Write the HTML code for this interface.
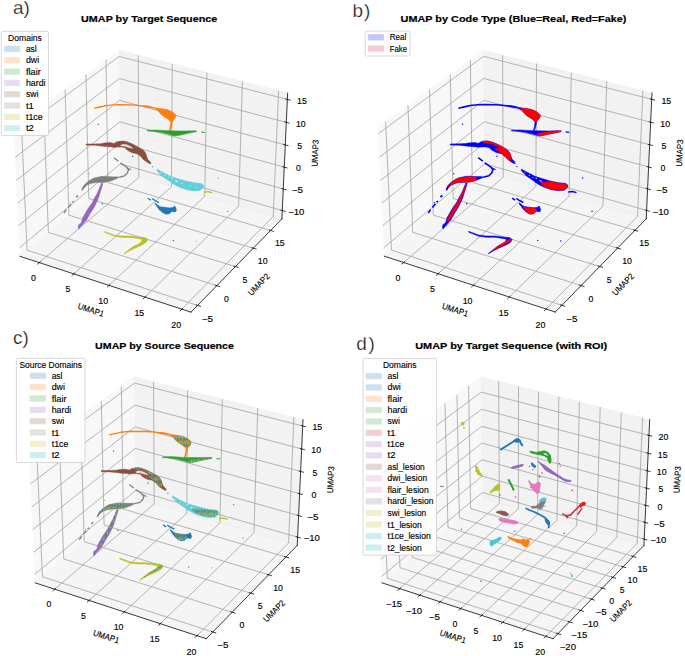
<!DOCTYPE html><html><head><meta charset="utf-8"><style>html,body{margin:0;padding:0;background:#fff;font-family:"Liberation Sans",sans-serif}svg{display:block}</style></head><body><svg width="685" height="656" viewBox="0 0 893.478261 855.652174" version="1.1">
 <defs>
  <style type="text/css">*{stroke-linejoin: round; stroke-linecap: butt}</style>
 </defs>
 <g id="figure_1">
  <g id="patch_1">
   <path d="M 0 855.652174 
L 893.478261 855.652174 
L 893.478261 0 
L 0 0 
z
" style="fill: #ffffff"/>
  </g>
  <g id="patch_2">
   <path d="M -4.056522 432.234783 
L 393.247826 432.234783 
L 393.247826 34.930435 
L -4.056522 34.930435 
z
" style="fill: #ffffff"/>
  </g>
  <g id="pane3d_1">
   <g id="patch_3">
    <path d="M 25.942696 334.272263 
L 157.145568 224.295415 
L 155.321722 65.68914 
L 17.840117 166.016953 
" style="fill: #f2f2f2; opacity: 0.5; stroke: #f2f2f2; stroke-linejoin: miter"/>
   </g>
  </g>
  <g id="pane3d_2">
   <g id="patch_4">
    <path d="M 157.145568 224.295415 
L 367.679362 285.489277 
L 375.192571 121.419991 
L 155.321722 65.68914 
" style="fill: #e6e6e6; opacity: 0.5; stroke: #e6e6e6; stroke-linejoin: miter"/>
   </g>
  </g>
  <g id="pane3d_3">
   <g id="patch_5">
    <path d="M 25.942696 334.272263 
L 249.118802 407.161579 
L 367.679362 285.489277 
L 157.145568 224.295415 
" style="fill: #ececec; opacity: 0.5; stroke: #ececec; stroke-linejoin: miter"/>
   </g>
  </g>
  <g id="grid3d_1">
   <g id="Line3DCollection_1">
    <path d="M 51.264136 342.542245 
L 181.126274 231.265659 
L 180.319149 72.025259 
" style="fill: none; stroke: #a0a0a0; stroke-width: 1.0"/>
    <path d="M 96.209206 357.221305 
L 223.63235 243.620498 
L 224.656903 83.263587 
" style="fill: none; stroke: #a0a0a0; stroke-width: 1.0"/>
    <path d="M 142.139301 372.222074 
L 266.991916 256.223412 
L 269.923868 94.737443 
" style="fill: none; stroke: #a0a0a0; stroke-width: 1.0"/>
    <path d="M 189.087163 387.555245 
L 311.230937 269.081949 
L 316.149563 106.454309 
" style="fill: none; stroke: #a0a0a0; stroke-width: 1.0"/>
    <path d="M 237.086999 403.231992 
L 356.376445 282.203965 
L 363.364772 118.421989 
" style="fill: none; stroke: #a0a0a0; stroke-width: 1.0"/>
   </g>
  </g>
  <g id="grid3d_2">
   <g id="Line3DCollection_2">
    <path d="M 27.762074 158.776361 
L 35.378215 326.363224 
L 257.680145 398.375534 
" style="fill: none; stroke: #a0a0a0; stroke-width: 1.0"/>
    <path d="M 56.888755 137.521036 
L 63.106769 303.120601 
L 282.80823 372.587937 
" style="fill: none; stroke: #a0a0a0; stroke-width: 1.0"/>
    <path d="M 84.976448 117.023917 
L 89.88846 280.671656 
L 307.033731 347.726613 
" style="fill: none; stroke: #a0a0a0; stroke-width: 1.0"/>
    <path d="M 112.079771 97.245146 
L 115.770973 258.97642 
L 330.40442 323.742537 
" style="fill: none; stroke: #a0a0a0; stroke-width: 1.0"/>
    <path d="M 138.249582 78.14761 
L 140.798845 237.997562 
L 352.964758 300.590081 
" style="fill: none; stroke: #a0a0a0; stroke-width: 1.0"/>
   </g>
  </g>
  <g id="grid3d_3">
   <g id="Line3DCollection_3">
    <path d="M 368.176564 274.631653 
L 157.024633 213.778606 
L 25.407335 323.155139 
" style="fill: none; stroke: #a0a0a0; stroke-width: 1.0"/>
    <path d="M 369.463637 246.525269 
L 156.711734 186.568124 
L 24.020928 294.365487 
" style="fill: none; stroke: #a0a0a0; stroke-width: 1.0"/>
    <path d="M 370.770558 217.985457 
L 156.394241 158.958172 
L 22.612321 265.114855 
" style="fill: none; stroke: #a0a0a0; stroke-width: 1.0"/>
    <path d="M 372.097789 189.002113 
L 156.072053 130.939888 
L 21.180977 235.392082 
" style="fill: none; stroke: #a0a0a0; stroke-width: 1.0"/>
    <path d="M 373.445809 159.564817 
L 155.745065 102.504145 
L 19.726342 205.185642 
" style="fill: none; stroke: #a0a0a0; stroke-width: 1.0"/>
    <path d="M 374.815108 129.662819 
L 155.413168 73.641545 
L 18.247842 174.483634 
" style="fill: none; stroke: #a0a0a0; stroke-width: 1.0"/>
   </g>
  </g>
  <g id="axis3d_1">
   <g id="line2d_1">
    <path d="M 25.942696 334.272263 
L 249.118802 407.161579 
" style="fill: none; stroke: #000000; stroke-width: 1.0; stroke-linecap: square"/>
   </g>
   <g id="xtick_1">
    <g id="line2d_2">
     <path d="M 52.39523 341.57303 
L 48.99708 344.484846 
" style="fill: none; stroke: #000000; stroke-width: 1.0; stroke-linecap: square"/>
    </g>
    <g id="text_1">
     <text style="font-size: 11.200px; font-family: 'Liberation Sans', sans-serif; text-anchor: middle" x="43.752233" y="365.88666" transform="rotate(-0 43.752233 365.88666)" dx="0.000" dy="0.432" textLength="6.363" lengthAdjust="spacingAndGlyphs" stroke="#000" stroke-width="0.18">0</text>
    </g>
   </g>
   <g id="xtick_2">
    <g id="line2d_3">
     <path d="M 97.320036 356.230972 
L 93.982712 359.206278 
" style="fill: none; stroke: #000000; stroke-width: 1.0; stroke-linecap: square"/>
    </g>
    <g id="text_2">
     <text style="font-size: 11.200px; font-family: 'Liberation Sans', sans-serif; text-anchor: middle" x="88.728978" y="380.773831" transform="rotate(-0 88.728978 380.773831)" dx="0.000" dy="0.432" textLength="6.363" lengthAdjust="spacingAndGlyphs" stroke="#000" stroke-width="0.18">5</text>
    </g>
   </g>
   <g id="xtick_3">
    <g id="line2d_4">
     <path d="M 143.228704 371.209926 
L 139.955704 374.25082 
" style="fill: none; stroke: #000000; stroke-width: 1.0; stroke-linecap: square"/>
    </g>
    <g id="text_3">
     <text style="font-size: 11.200px; font-family: 'Liberation Sans', sans-serif; text-anchor: middle" x="134.693956" y="395.988104" transform="rotate(-0 134.693956 395.988104)" dx="0.026" dy="0.432" textLength="12.777" lengthAdjust="spacingAndGlyphs" stroke="#000" stroke-width="0.18">10</text>
    </g>
   </g>
   <g id="xtick_4">
    <g id="line2d_5">
     <path d="M 190.153911 386.520554 
L 186.948923 389.62923 
" style="fill: none; stroke: #000000; stroke-width: 1.0; stroke-linecap: square"/>
    </g>
    <g id="text_4">
     <text style="font-size: 11.200px; font-family: 'Liberation Sans', sans-serif; text-anchor: middle" x="181.680097" y="411.54038" transform="rotate(-0 181.680097 411.54038)" dx="0.026" dy="0.432" textLength="12.777" lengthAdjust="spacingAndGlyphs" stroke="#000" stroke-width="0.18">15</text>
    </g>
   </g>
   <g id="xtick_5">
    <g id="line2d_6">
     <path d="M 238.129798 402.173994 
L 234.996712 405.352744 
" style="fill: none; stroke: #000000; stroke-width: 1.0; stroke-linecap: square"/>
    </g>
    <g id="text_5">
     <text style="font-size: 11.200px; font-family: 'Liberation Sans', sans-serif; text-anchor: middle" x="229.721815" y="427.442047" transform="rotate(-0 229.721815 427.442047)" dx="0.026" dy="0.432" textLength="12.777" lengthAdjust="spacingAndGlyphs" stroke="#000" stroke-width="0.18">20</text>
    </g>
   </g>
   <g id="text_6">
    <text style="font-size: 11.200px; font-family: 'Liberation Sans', sans-serif; text-anchor: middle" x="117.485371" y="407.554723" transform="rotate(-341.912962 117.485371 407.554723)" dx="0.012" dy="0.432" textLength="35.205" lengthAdjust="spacingAndGlyphs" stroke="#000" stroke-width="0.18">UMAP1</text>
   </g>
  </g>
  <g id="axis3d_2">
   <g id="line2d_7">
    <path d="M 367.679362 285.489277 
L 249.118802 407.161579 
" style="fill: none; stroke: #000000; stroke-width: 1.0; stroke-linecap: square"/>
   </g>
   <g id="xtick_6">
    <g id="line2d_8">
     <path d="M 255.806825 397.768692 
L 261.431629 399.590786 
" style="fill: none; stroke: #000000; stroke-width: 1.0; stroke-linecap: square"/>
    </g>
    <g id="text_7">
     <text style="font-size: 11.200px; font-family: 'Liberation Sans', sans-serif; text-anchor: middle" x="270.555022" y="419.390967" transform="rotate(-0 270.555022 419.390967)" dx="0.005" dy="0.432" textLength="14.752" lengthAdjust="spacingAndGlyphs" stroke="#000" stroke-width="0.18">−5</text>
    </g>
   </g>
   <g id="xtick_7">
    <g id="line2d_9">
     <path d="M 280.958538 372.003084 
L 286.512309 373.759128 
" style="fill: none; stroke: #000000; stroke-width: 1.0; stroke-linecap: square"/>
    </g>
    <g id="text_8">
     <text style="font-size: 11.200px; font-family: 'Liberation Sans', sans-serif; text-anchor: middle" x="295.457446" y="393.347754" transform="rotate(-0 295.457446 393.347754)" dx="0.000" dy="0.432" textLength="6.363" lengthAdjust="spacingAndGlyphs" stroke="#000" stroke-width="0.18">0</text>
    </g>
   </g>
   <g id="xtick_8">
    <g id="line2d_10">
     <path d="M 305.207194 347.162575 
L 310.691358 348.856097 
" style="fill: none; stroke: #000000; stroke-width: 1.0; stroke-linecap: square"/>
    </g>
    <g id="text_9">
     <text style="font-size: 11.200px; font-family: 'Liberation Sans', sans-serif; text-anchor: middle" x="319.465046" y="368.240357" transform="rotate(-0 319.465046 368.240357)" dx="0.000" dy="0.432" textLength="6.363" lengthAdjust="spacingAndGlyphs" stroke="#000" stroke-width="0.18">5</text>
    </g>
   </g>
   <g id="xtick_9">
    <g id="line2d_11">
     <path d="M 328.60057 323.198221 
L 334.016539 324.832502 
" style="fill: none; stroke: #000000; stroke-width: 1.0; stroke-linecap: square"/>
    </g>
    <g id="text_10">
     <text style="font-size: 11.200px; font-family: 'Liberation Sans', sans-serif; text-anchor: middle" x="342.625201" y="344.019226" transform="rotate(-0 342.625201 344.019226)" dx="0.026" dy="0.432" textLength="12.777" lengthAdjust="spacingAndGlyphs" stroke="#000" stroke-width="0.18">10</text>
    </g>
   </g>
   <g id="xtick_10">
    <g id="line2d_12">
     <path d="M 351.183132 300.064471 
L 356.532296 301.642565 
" style="fill: none; stroke: #000000; stroke-width: 1.0; stroke-linecap: square"/>
    </g>
    <g id="text_11">
     <text style="font-size: 11.200px; font-family: 'Liberation Sans', sans-serif; text-anchor: middle" x="364.982004" y="320.638249" transform="rotate(-0 364.982004 320.638249)" dx="0.026" dy="0.432" textLength="12.777" lengthAdjust="spacingAndGlyphs" stroke="#000" stroke-width="0.18">15</text>
    </g>
   </g>
   <g id="text_12">
    <text style="font-size: 11.200px; font-family: 'Liberation Sans', sans-serif; text-anchor: middle" x="339.989067" y="373.526556" transform="rotate(-45.742112 339.989067 373.526556)" dx="0.012" dy="0.432" textLength="35.205" lengthAdjust="spacingAndGlyphs" stroke="#000" stroke-width="0.18">UMAP2</text>
   </g>
  </g>
  <g id="axis3d_3">
   <g id="line2d_13">
    <path d="M 367.679362 285.489277 
L 375.192571 121.419991 
" style="fill: none; stroke: #000000; stroke-width: 1.0; stroke-linecap: square"/>
   </g>
   <g id="xtick_11">
    <g id="line2d_14">
     <path d="M 366.404172 274.120857 
L 371.725576 275.654462 
" style="fill: none; stroke: #000000; stroke-width: 1.0; stroke-linecap: square"/>
    </g>
    <g id="text_13">
     <text style="font-size: 11.200px; font-family: 'Liberation Sans', sans-serif; text-anchor: middle" x="386.496329" y="279.636687" transform="rotate(-0 386.496329 279.636687)" dx="0.006" dy="0.432" textLength="21.117" lengthAdjust="spacingAndGlyphs" stroke="#000" stroke-width="0.18">−10</text>
    </g>
   </g>
   <g id="xtick_12">
    <g id="line2d_15">
     <path d="M 367.677174 246.021813 
L 373.040857 247.533391 
" style="fill: none; stroke: #000000; stroke-width: 1.0; stroke-linecap: square"/>
    </g>
    <g id="text_14">
     <text style="font-size: 11.200px; font-family: 'Liberation Sans', sans-serif; text-anchor: middle" x="387.920676" y="251.567598" transform="rotate(-0 387.920676 251.567598)" dx="0.005" dy="0.432" textLength="14.752" lengthAdjust="spacingAndGlyphs" stroke="#000" stroke-width="0.18">−5</text>
    </g>
   </g>
   <g id="xtick_13">
    <g id="line2d_16">
     <path d="M 368.969799 217.489628 
L 374.376438 218.978315 
" style="fill: none; stroke: #000000; stroke-width: 1.0; stroke-linecap: square"/>
    </g>
    <g id="text_15">
     <text style="font-size: 11.200px; font-family: 'Liberation Sans', sans-serif; text-anchor: middle" x="389.366943" y="223.066543" transform="rotate(-0 389.366943 223.066543)" dx="0.000" dy="0.432" textLength="6.363" lengthAdjust="spacingAndGlyphs" stroke="#000" stroke-width="0.18">0</text>
    </g>
   </g>
   <g id="xtick_14">
    <g id="line2d_17">
     <path d="M 370.282504 188.51421 
L 375.732791 189.979109 
" style="fill: none; stroke: #000000; stroke-width: 1.0; stroke-linecap: square"/>
    </g>
    <g id="text_16">
     <text style="font-size: 11.200px; font-family: 'Liberation Sans', sans-serif; text-anchor: middle" x="390.83564" y="194.123472" transform="rotate(-0 390.83564 194.123472)" dx="0.000" dy="0.432" textLength="6.363" lengthAdjust="spacingAndGlyphs" stroke="#000" stroke-width="0.18">5</text>
    </g>
   </g>
   <g id="xtick_15">
    <g id="line2d_18">
     <path d="M 371.615761 159.08515 
L 377.110406 160.525329 
" style="fill: none; stroke: #000000; stroke-width: 1.0; stroke-linecap: square"/>
    </g>
    <g id="text_17">
     <text style="font-size: 11.200px; font-family: 'Liberation Sans', sans-serif; text-anchor: middle" x="392.327293" y="164.728022" transform="rotate(-0 392.327293 164.728022)" dx="0.026" dy="0.432" textLength="12.777" lengthAdjust="spacingAndGlyphs" stroke="#000" stroke-width="0.18">10</text>
    </g>
   </g>
   <g id="xtick_16">
    <g id="line2d_19">
     <path d="M 372.970057 129.191711 
L 378.509786 130.606204 
" style="fill: none; stroke: #000000; stroke-width: 1.0; stroke-linecap: square"/>
    </g>
    <g id="text_18">
     <text style="font-size: 11.200px; font-family: 'Liberation Sans', sans-serif; text-anchor: middle" x="393.842443" y="134.869504" transform="rotate(-0 393.842443 134.869504)" dx="0.026" dy="0.432" textLength="12.777" lengthAdjust="spacingAndGlyphs" stroke="#000" stroke-width="0.18">15</text>
    </g>
   </g>
   <g id="text_19">
    <text style="font-size: 11.200px; font-family: 'Liberation Sans', sans-serif; text-anchor: middle" x="414.574628" y="199.95687" transform="rotate(-87.378092 414.574628 199.95687)" dx="0.012" dy="0.432" textLength="35.205" lengthAdjust="spacingAndGlyphs" stroke="#000" stroke-width="0.18">UMAP3</text>
   </g>
  </g>
  <g id="axes_1">
   <g id="text_20">
    <text style="font-weight: 700; font-size: 12.000px; font-family: 'Liberation Sans', sans-serif; text-anchor: middle" x="194.595652" y="28.930435" transform="rotate(-0 194.595652 28.930435)" dx="-0.024" dy="0.000" textLength="177.635" lengthAdjust="spacingAndGlyphs" stroke="#000" stroke-width="0.23">UMAP by Target Sequence</text>
   </g>
  </g>
  <g id="patch_6">
   <path d="M 471.169565 432.091304 
L 868.473913 432.091304 
L 868.473913 34.786957 
L 471.169565 34.786957 
z
" style="fill: #ffffff"/>
  </g>
  <g id="pane3d_4">
   <g id="patch_7">
    <path d="M 501.168783 334.128785 
L 632.371654 224.151937 
L 630.547809 65.545662 
L 493.066204 165.873475 
" style="fill: #f2f2f2; opacity: 0.5; stroke: #f2f2f2; stroke-linejoin: miter"/>
   </g>
  </g>
  <g id="pane3d_5">
   <g id="patch_8">
    <path d="M 632.371654 224.151937 
L 842.905449 285.345799 
L 850.418658 121.276513 
L 630.547809 65.545662 
" style="fill: #e6e6e6; opacity: 0.5; stroke: #e6e6e6; stroke-linejoin: miter"/>
   </g>
  </g>
  <g id="pane3d_6">
   <g id="patch_9">
    <path d="M 501.168783 334.128785 
L 724.344889 407.0181 
L 842.905449 285.345799 
L 632.371654 224.151937 
" style="fill: #ececec; opacity: 0.5; stroke: #ececec; stroke-linejoin: miter"/>
   </g>
  </g>
  <g id="grid3d_4">
   <g id="Line3DCollection_4">
    <path d="M 526.490223 342.398767 
L 656.352361 231.122181 
L 655.545236 71.881781 
" style="fill: none; stroke: #a0a0a0; stroke-width: 1.0"/>
    <path d="M 571.435293 357.077827 
L 698.858437 243.47702 
L 699.88299 83.120109 
" style="fill: none; stroke: #a0a0a0; stroke-width: 1.0"/>
    <path d="M 617.365388 372.078596 
L 742.218003 256.079933 
L 745.149955 94.593965 
" style="fill: none; stroke: #a0a0a0; stroke-width: 1.0"/>
    <path d="M 664.31325 387.411767 
L 786.457024 268.93847 
L 791.37565 106.310831 
" style="fill: none; stroke: #a0a0a0; stroke-width: 1.0"/>
    <path d="M 712.313086 403.088514 
L 831.602532 282.060487 
L 838.590859 118.27851 
" style="fill: none; stroke: #a0a0a0; stroke-width: 1.0"/>
   </g>
  </g>
  <g id="grid3d_5">
   <g id="Line3DCollection_5">
    <path d="M 502.98816 158.632883 
L 510.604302 326.219746 
L 732.906232 398.232055 
" style="fill: none; stroke: #a0a0a0; stroke-width: 1.0"/>
    <path d="M 532.114842 137.377558 
L 538.332856 302.977122 
L 758.034317 372.444459 
" style="fill: none; stroke: #a0a0a0; stroke-width: 1.0"/>
    <path d="M 560.202535 116.880439 
L 565.114547 280.528178 
L 782.259818 347.583135 
" style="fill: none; stroke: #a0a0a0; stroke-width: 1.0"/>
    <path d="M 587.305858 97.101668 
L 590.99706 258.832942 
L 805.630507 323.599059 
" style="fill: none; stroke: #a0a0a0; stroke-width: 1.0"/>
    <path d="M 613.475669 78.004132 
L 616.024932 237.854083 
L 828.190845 300.446603 
" style="fill: none; stroke: #a0a0a0; stroke-width: 1.0"/>
   </g>
  </g>
  <g id="grid3d_6">
   <g id="Line3DCollection_6">
    <path d="M 843.402651 274.488174 
L 632.25072 213.635128 
L 500.633422 323.01166 
" style="fill: none; stroke: #a0a0a0; stroke-width: 1.0"/>
    <path d="M 844.689724 246.38179 
L 631.937821 186.424646 
L 499.247014 294.222009 
" style="fill: none; stroke: #a0a0a0; stroke-width: 1.0"/>
    <path d="M 845.996645 217.841978 
L 631.620328 158.814693 
L 497.838408 264.971377 
" style="fill: none; stroke: #a0a0a0; stroke-width: 1.0"/>
    <path d="M 847.323876 188.858634 
L 631.29814 130.796409 
L 496.407064 235.248603 
" style="fill: none; stroke: #a0a0a0; stroke-width: 1.0"/>
    <path d="M 848.671896 159.421338 
L 630.971152 102.360667 
L 494.952429 205.042164 
" style="fill: none; stroke: #a0a0a0; stroke-width: 1.0"/>
    <path d="M 850.041195 129.519341 
L 630.639255 73.498067 
L 493.473929 174.340156 
" style="fill: none; stroke: #a0a0a0; stroke-width: 1.0"/>
   </g>
  </g>
  <g id="axis3d_4">
   <g id="line2d_20">
    <path d="M 501.168783 334.128785 
L 724.344889 407.0181 
" style="fill: none; stroke: #000000; stroke-width: 1.0; stroke-linecap: square"/>
   </g>
   <g id="xtick_17">
    <g id="line2d_21">
     <path d="M 527.621317 341.429552 
L 524.223166 344.341368 
" style="fill: none; stroke: #000000; stroke-width: 1.0; stroke-linecap: square"/>
    </g>
    <g id="text_21">
     <text style="font-size: 11.200px; font-family: 'Liberation Sans', sans-serif; text-anchor: middle" x="518.97832" y="365.743182" transform="rotate(-0 518.97832 365.743182)" dx="0.000" dy="0.432" textLength="6.363" lengthAdjust="spacingAndGlyphs" stroke="#000" stroke-width="0.18">0</text>
    </g>
   </g>
   <g id="xtick_18">
    <g id="line2d_22">
     <path d="M 572.546123 356.087494 
L 569.208799 359.062799 
" style="fill: none; stroke: #000000; stroke-width: 1.0; stroke-linecap: square"/>
    </g>
    <g id="text_22">
     <text style="font-size: 11.200px; font-family: 'Liberation Sans', sans-serif; text-anchor: middle" x="563.955065" y="380.630353" transform="rotate(-0 563.955065 380.630353)" dx="0.000" dy="0.432" textLength="6.363" lengthAdjust="spacingAndGlyphs" stroke="#000" stroke-width="0.18">5</text>
    </g>
   </g>
   <g id="xtick_19">
    <g id="line2d_23">
     <path d="M 618.454791 371.066448 
L 615.181791 374.107342 
" style="fill: none; stroke: #000000; stroke-width: 1.0; stroke-linecap: square"/>
    </g>
    <g id="text_23">
     <text style="font-size: 11.200px; font-family: 'Liberation Sans', sans-serif; text-anchor: middle" x="609.920043" y="395.844626" transform="rotate(-0 609.920043 395.844626)" dx="0.026" dy="0.432" textLength="12.777" lengthAdjust="spacingAndGlyphs" stroke="#000" stroke-width="0.18">10</text>
    </g>
   </g>
   <g id="xtick_20">
    <g id="line2d_24">
     <path d="M 665.379998 386.377075 
L 662.17501 389.485751 
" style="fill: none; stroke: #000000; stroke-width: 1.0; stroke-linecap: square"/>
    </g>
    <g id="text_24">
     <text style="font-size: 11.200px; font-family: 'Liberation Sans', sans-serif; text-anchor: middle" x="656.906184" y="411.396901" transform="rotate(-0 656.906184 411.396901)" dx="0.026" dy="0.432" textLength="12.777" lengthAdjust="spacingAndGlyphs" stroke="#000" stroke-width="0.18">15</text>
    </g>
   </g>
   <g id="xtick_21">
    <g id="line2d_25">
     <path d="M 713.355885 402.030516 
L 710.222798 405.209266 
" style="fill: none; stroke: #000000; stroke-width: 1.0; stroke-linecap: square"/>
    </g>
    <g id="text_25">
     <text style="font-size: 11.200px; font-family: 'Liberation Sans', sans-serif; text-anchor: middle" x="704.947902" y="427.298569" transform="rotate(-0 704.947902 427.298569)" dx="0.026" dy="0.432" textLength="12.777" lengthAdjust="spacingAndGlyphs" stroke="#000" stroke-width="0.18">20</text>
    </g>
   </g>
   <g id="text_26">
    <text style="font-size: 11.200px; font-family: 'Liberation Sans', sans-serif; text-anchor: middle" x="592.711458" y="407.411245" transform="rotate(-341.912962 592.711458 407.411245)" dx="0.012" dy="0.432" textLength="35.205" lengthAdjust="spacingAndGlyphs" stroke="#000" stroke-width="0.18">UMAP1</text>
   </g>
  </g>
  <g id="axis3d_5">
   <g id="line2d_26">
    <path d="M 842.905449 285.345799 
L 724.344889 407.0181 
" style="fill: none; stroke: #000000; stroke-width: 1.0; stroke-linecap: square"/>
   </g>
   <g id="xtick_22">
    <g id="line2d_27">
     <path d="M 731.032912 397.625214 
L 736.657716 399.447308 
" style="fill: none; stroke: #000000; stroke-width: 1.0; stroke-linecap: square"/>
    </g>
    <g id="text_27">
     <text style="font-size: 11.200px; font-family: 'Liberation Sans', sans-serif; text-anchor: middle" x="745.781109" y="419.247489" transform="rotate(-0 745.781109 419.247489)" dx="0.005" dy="0.432" textLength="14.752" lengthAdjust="spacingAndGlyphs" stroke="#000" stroke-width="0.18">−5</text>
    </g>
   </g>
   <g id="xtick_23">
    <g id="line2d_28">
     <path d="M 756.184625 371.859605 
L 761.738396 373.61565 
" style="fill: none; stroke: #000000; stroke-width: 1.0; stroke-linecap: square"/>
    </g>
    <g id="text_28">
     <text style="font-size: 11.200px; font-family: 'Liberation Sans', sans-serif; text-anchor: middle" x="770.683533" y="393.204276" transform="rotate(-0 770.683533 393.204276)" dx="0.000" dy="0.432" textLength="6.363" lengthAdjust="spacingAndGlyphs" stroke="#000" stroke-width="0.18">0</text>
    </g>
   </g>
   <g id="xtick_24">
    <g id="line2d_29">
     <path d="M 780.433281 347.019096 
L 785.917445 348.712619 
" style="fill: none; stroke: #000000; stroke-width: 1.0; stroke-linecap: square"/>
    </g>
    <g id="text_29">
     <text style="font-size: 11.200px; font-family: 'Liberation Sans', sans-serif; text-anchor: middle" x="794.691133" y="368.096879" transform="rotate(-0 794.691133 368.096879)" dx="0.000" dy="0.432" textLength="6.363" lengthAdjust="spacingAndGlyphs" stroke="#000" stroke-width="0.18">5</text>
    </g>
   </g>
   <g id="xtick_25">
    <g id="line2d_30">
     <path d="M 803.826657 323.054743 
L 809.242626 324.689023 
" style="fill: none; stroke: #000000; stroke-width: 1.0; stroke-linecap: square"/>
    </g>
    <g id="text_30">
     <text style="font-size: 11.200px; font-family: 'Liberation Sans', sans-serif; text-anchor: middle" x="817.851288" y="343.875748" transform="rotate(-0 817.851288 343.875748)" dx="0.026" dy="0.432" textLength="12.777" lengthAdjust="spacingAndGlyphs" stroke="#000" stroke-width="0.18">10</text>
    </g>
   </g>
   <g id="xtick_26">
    <g id="line2d_31">
     <path d="M 826.409218 299.920993 
L 831.758383 301.499087 
" style="fill: none; stroke: #000000; stroke-width: 1.0; stroke-linecap: square"/>
    </g>
    <g id="text_31">
     <text style="font-size: 11.200px; font-family: 'Liberation Sans', sans-serif; text-anchor: middle" x="840.208091" y="320.494771" transform="rotate(-0 840.208091 320.494771)" dx="0.026" dy="0.432" textLength="12.777" lengthAdjust="spacingAndGlyphs" stroke="#000" stroke-width="0.18">15</text>
    </g>
   </g>
   <g id="text_32">
    <text style="font-size: 11.200px; font-family: 'Liberation Sans', sans-serif; text-anchor: middle" x="815.215154" y="373.383078" transform="rotate(-45.742112 815.215154 373.383078)" dx="0.012" dy="0.432" textLength="35.205" lengthAdjust="spacingAndGlyphs" stroke="#000" stroke-width="0.18">UMAP2</text>
   </g>
  </g>
  <g id="axis3d_6">
   <g id="line2d_32">
    <path d="M 842.905449 285.345799 
L 850.418658 121.276513 
" style="fill: none; stroke: #000000; stroke-width: 1.0; stroke-linecap: square"/>
   </g>
   <g id="xtick_27">
    <g id="line2d_33">
     <path d="M 841.630259 273.977379 
L 846.951663 275.510984 
" style="fill: none; stroke: #000000; stroke-width: 1.0; stroke-linecap: square"/>
    </g>
    <g id="text_33">
     <text style="font-size: 11.200px; font-family: 'Liberation Sans', sans-serif; text-anchor: middle" x="861.722416" y="279.493208" transform="rotate(-0 861.722416 279.493208)" dx="0.006" dy="0.432" textLength="21.117" lengthAdjust="spacingAndGlyphs" stroke="#000" stroke-width="0.18">−10</text>
    </g>
   </g>
   <g id="xtick_28">
    <g id="line2d_34">
     <path d="M 842.903261 245.878334 
L 848.266944 247.389913 
" style="fill: none; stroke: #000000; stroke-width: 1.0; stroke-linecap: square"/>
    </g>
    <g id="text_34">
     <text style="font-size: 11.200px; font-family: 'Liberation Sans', sans-serif; text-anchor: middle" x="863.146763" y="251.42412" transform="rotate(-0 863.146763 251.42412)" dx="0.005" dy="0.432" textLength="14.752" lengthAdjust="spacingAndGlyphs" stroke="#000" stroke-width="0.18">−5</text>
    </g>
   </g>
   <g id="xtick_29">
    <g id="line2d_35">
     <path d="M 844.195886 217.34615 
L 849.602525 218.834837 
" style="fill: none; stroke: #000000; stroke-width: 1.0; stroke-linecap: square"/>
    </g>
    <g id="text_35">
     <text style="font-size: 11.200px; font-family: 'Liberation Sans', sans-serif; text-anchor: middle" x="864.59303" y="222.923065" transform="rotate(-0 864.59303 222.923065)" dx="0.000" dy="0.432" textLength="6.363" lengthAdjust="spacingAndGlyphs" stroke="#000" stroke-width="0.18">0</text>
    </g>
   </g>
   <g id="xtick_30">
    <g id="line2d_36">
     <path d="M 845.508591 188.370732 
L 850.958878 189.83563 
" style="fill: none; stroke: #000000; stroke-width: 1.0; stroke-linecap: square"/>
    </g>
    <g id="text_36">
     <text style="font-size: 11.200px; font-family: 'Liberation Sans', sans-serif; text-anchor: middle" x="866.061727" y="193.979994" transform="rotate(-0 866.061727 193.979994)" dx="0.000" dy="0.432" textLength="6.363" lengthAdjust="spacingAndGlyphs" stroke="#000" stroke-width="0.18">5</text>
    </g>
   </g>
   <g id="xtick_31">
    <g id="line2d_37">
     <path d="M 846.841848 158.941672 
L 852.336493 160.381851 
" style="fill: none; stroke: #000000; stroke-width: 1.0; stroke-linecap: square"/>
    </g>
    <g id="text_37">
     <text style="font-size: 11.200px; font-family: 'Liberation Sans', sans-serif; text-anchor: middle" x="867.553379" y="164.584544" transform="rotate(-0 867.553379 164.584544)" dx="0.026" dy="0.432" textLength="12.777" lengthAdjust="spacingAndGlyphs" stroke="#000" stroke-width="0.18">10</text>
    </g>
   </g>
   <g id="xtick_32">
    <g id="line2d_38">
     <path d="M 848.196143 129.048232 
L 853.735873 130.462726 
" style="fill: none; stroke: #000000; stroke-width: 1.0; stroke-linecap: square"/>
    </g>
    <g id="text_38">
     <text style="font-size: 11.200px; font-family: 'Liberation Sans', sans-serif; text-anchor: middle" x="869.06853" y="134.726026" transform="rotate(-0 869.06853 134.726026)" dx="0.026" dy="0.432" textLength="12.777" lengthAdjust="spacingAndGlyphs" stroke="#000" stroke-width="0.18">15</text>
    </g>
   </g>
   <g id="text_39">
    <text style="font-size: 11.200px; font-family: 'Liberation Sans', sans-serif; text-anchor: middle" x="889.800715" y="199.813392" transform="rotate(-87.378092 889.800715 199.813392)" dx="0.012" dy="0.432" textLength="35.205" lengthAdjust="spacingAndGlyphs" stroke="#000" stroke-width="0.18">UMAP3</text>
   </g>
  </g>
  <g id="axes_2">
   <g id="text_40">
    <text style="font-weight: 700; font-size: 12.000px; font-family: 'Liberation Sans', sans-serif; text-anchor: middle" x="669.821739" y="28.786957" transform="rotate(-0 669.821739 28.786957)" dx="0.002" dy="0.000" textLength="294.692" lengthAdjust="spacingAndGlyphs" stroke="#000" stroke-width="0.23">UMAP by Code Type (Blue=Real, Red=Fake)</text>
   </g>
  </g>
  <g id="patch_10">
   <path d="M 15.952174 858.195652 
L 413.256522 858.195652 
L 413.256522 460.891304 
L 15.952174 460.891304 
z
" style="fill: #ffffff"/>
  </g>
  <g id="pane3d_7">
   <g id="patch_11">
    <path d="M 45.951392 760.233133 
L 177.154263 650.256284 
L 175.330418 491.65001 
L 37.848813 591.977823 
" style="fill: #f2f2f2; opacity: 0.5; stroke: #f2f2f2; stroke-linejoin: miter"/>
   </g>
  </g>
  <g id="pane3d_8">
   <g id="patch_12">
    <path d="M 177.154263 650.256284 
L 387.688058 711.450147 
L 395.201267 547.380861 
L 175.330418 491.65001 
" style="fill: #e6e6e6; opacity: 0.5; stroke: #e6e6e6; stroke-linejoin: miter"/>
   </g>
  </g>
  <g id="pane3d_9">
   <g id="patch_13">
    <path d="M 45.951392 760.233133 
L 269.127497 833.122448 
L 387.688058 711.450147 
L 177.154263 650.256284 
" style="fill: #ececec; opacity: 0.5; stroke: #ececec; stroke-linejoin: miter"/>
   </g>
  </g>
  <g id="grid3d_7">
   <g id="Line3DCollection_7">
    <path d="M 71.272832 768.503115 
L 201.134969 657.226529 
L 200.327845 497.986129 
" style="fill: none; stroke: #a0a0a0; stroke-width: 1.0"/>
    <path d="M 116.217901 783.182174 
L 243.641046 669.581367 
L 244.665599 509.224457 
" style="fill: none; stroke: #a0a0a0; stroke-width: 1.0"/>
    <path d="M 162.147997 798.182943 
L 287.000612 682.184281 
L 289.932563 520.698313 
" style="fill: none; stroke: #a0a0a0; stroke-width: 1.0"/>
    <path d="M 209.095858 813.516115 
L 331.239633 695.042818 
L 336.158258 532.415179 
" style="fill: none; stroke: #a0a0a0; stroke-width: 1.0"/>
    <path d="M 257.095695 829.192861 
L 376.38514 708.164835 
L 383.373468 544.382858 
" style="fill: none; stroke: #a0a0a0; stroke-width: 1.0"/>
   </g>
  </g>
  <g id="grid3d_8">
   <g id="Line3DCollection_8">
    <path d="M 47.770769 584.737231 
L 55.386911 752.324094 
L 277.688841 824.336403 
" style="fill: none; stroke: #a0a0a0; stroke-width: 1.0"/>
    <path d="M 76.897451 563.481905 
L 83.115464 729.08147 
L 302.816926 798.548807 
" style="fill: none; stroke: #a0a0a0; stroke-width: 1.0"/>
    <path d="M 104.985144 542.984786 
L 109.897155 706.632526 
L 327.042427 773.687483 
" style="fill: none; stroke: #a0a0a0; stroke-width: 1.0"/>
    <path d="M 132.088467 523.206016 
L 135.779669 684.93729 
L 350.413116 749.703407 
" style="fill: none; stroke: #a0a0a0; stroke-width: 1.0"/>
    <path d="M 158.258277 504.10848 
L 160.807541 663.958431 
L 372.973453 726.550951 
" style="fill: none; stroke: #a0a0a0; stroke-width: 1.0"/>
   </g>
  </g>
  <g id="grid3d_9">
   <g id="Line3DCollection_9">
    <path d="M 388.18526 700.592522 
L 177.033328 639.739475 
L 45.416031 749.116008 
" style="fill: none; stroke: #a0a0a0; stroke-width: 1.0"/>
    <path d="M 389.472333 672.486138 
L 176.720429 612.528993 
L 44.029623 720.326357 
" style="fill: none; stroke: #a0a0a0; stroke-width: 1.0"/>
    <path d="M 390.779254 643.946326 
L 176.402937 584.919041 
L 42.621016 691.075725 
" style="fill: none; stroke: #a0a0a0; stroke-width: 1.0"/>
    <path d="M 392.106485 614.962982 
L 176.080749 556.900757 
L 41.189673 661.352951 
" style="fill: none; stroke: #a0a0a0; stroke-width: 1.0"/>
    <path d="M 393.454504 585.525686 
L 175.753761 528.465015 
L 39.735038 631.146512 
" style="fill: none; stroke: #a0a0a0; stroke-width: 1.0"/>
    <path d="M 394.823804 555.623689 
L 175.421864 499.602415 
L 38.256538 600.444504 
" style="fill: none; stroke: #a0a0a0; stroke-width: 1.0"/>
   </g>
  </g>
  <g id="axis3d_7">
   <g id="line2d_39">
    <path d="M 45.951392 760.233133 
L 269.127497 833.122448 
" style="fill: none; stroke: #000000; stroke-width: 1.0; stroke-linecap: square"/>
   </g>
   <g id="xtick_33">
    <g id="line2d_40">
     <path d="M 72.403926 767.5339 
L 69.005775 770.445716 
" style="fill: none; stroke: #000000; stroke-width: 1.0; stroke-linecap: square"/>
    </g>
    <g id="text_41">
     <text style="font-size: 11.200px; font-family: 'Liberation Sans', sans-serif; text-anchor: middle" x="63.760929" y="791.84753" transform="rotate(-0 63.760929 791.84753)" dx="0.000" dy="0.432" textLength="6.363" lengthAdjust="spacingAndGlyphs" stroke="#000" stroke-width="0.18">0</text>
    </g>
   </g>
   <g id="xtick_34">
    <g id="line2d_41">
     <path d="M 117.328732 782.191842 
L 113.991408 785.167147 
" style="fill: none; stroke: #000000; stroke-width: 1.0; stroke-linecap: square"/>
    </g>
    <g id="text_42">
     <text style="font-size: 11.200px; font-family: 'Liberation Sans', sans-serif; text-anchor: middle" x="108.737674" y="806.734701" transform="rotate(-0 108.737674 806.734701)" dx="0.000" dy="0.432" textLength="6.363" lengthAdjust="spacingAndGlyphs" stroke="#000" stroke-width="0.18">5</text>
    </g>
   </g>
   <g id="xtick_35">
    <g id="line2d_42">
     <path d="M 163.2374 797.170796 
L 159.9644 800.21169 
" style="fill: none; stroke: #000000; stroke-width: 1.0; stroke-linecap: square"/>
    </g>
    <g id="text_43">
     <text style="font-size: 11.200px; font-family: 'Liberation Sans', sans-serif; text-anchor: middle" x="154.702651" y="821.948974" transform="rotate(-0 154.702651 821.948974)" dx="0.026" dy="0.432" textLength="12.777" lengthAdjust="spacingAndGlyphs" stroke="#000" stroke-width="0.18">10</text>
    </g>
   </g>
   <g id="xtick_36">
    <g id="line2d_43">
     <path d="M 210.162606 812.481423 
L 206.957619 815.590099 
" style="fill: none; stroke: #000000; stroke-width: 1.0; stroke-linecap: square"/>
    </g>
    <g id="text_44">
     <text style="font-size: 11.200px; font-family: 'Liberation Sans', sans-serif; text-anchor: middle" x="201.688793" y="837.501249" transform="rotate(-0 201.688793 837.501249)" dx="0.026" dy="0.432" textLength="12.777" lengthAdjust="spacingAndGlyphs" stroke="#000" stroke-width="0.18">15</text>
    </g>
   </g>
   <g id="xtick_37">
    <g id="line2d_44">
     <path d="M 258.138494 828.134864 
L 255.005407 831.313614 
" style="fill: none; stroke: #000000; stroke-width: 1.0; stroke-linecap: square"/>
    </g>
    <g id="text_45">
     <text style="font-size: 11.200px; font-family: 'Liberation Sans', sans-serif; text-anchor: middle" x="249.73051" y="853.402917" transform="rotate(-0 249.73051 853.402917)" dx="0.026" dy="0.432" textLength="12.777" lengthAdjust="spacingAndGlyphs" stroke="#000" stroke-width="0.18">20</text>
    </g>
   </g>
   <g id="text_46">
    <text style="font-size: 11.200px; font-family: 'Liberation Sans', sans-serif; text-anchor: middle" x="137.494066" y="833.515593" transform="rotate(-341.912962 137.494066 833.515593)" dx="0.012" dy="0.432" textLength="35.205" lengthAdjust="spacingAndGlyphs" stroke="#000" stroke-width="0.18">UMAP1</text>
   </g>
  </g>
  <g id="axis3d_8">
   <g id="line2d_45">
    <path d="M 387.688058 711.450147 
L 269.127497 833.122448 
" style="fill: none; stroke: #000000; stroke-width: 1.0; stroke-linecap: square"/>
   </g>
   <g id="xtick_38">
    <g id="line2d_46">
     <path d="M 275.815521 823.729561 
L 281.440325 825.551656 
" style="fill: none; stroke: #000000; stroke-width: 1.0; stroke-linecap: square"/>
    </g>
    <g id="text_47">
     <text style="font-size: 11.200px; font-family: 'Liberation Sans', sans-serif; text-anchor: middle" x="290.563718" y="845.351837" transform="rotate(-0 290.563718 845.351837)" dx="0.005" dy="0.432" textLength="14.752" lengthAdjust="spacingAndGlyphs" stroke="#000" stroke-width="0.18">−5</text>
    </g>
   </g>
   <g id="xtick_39">
    <g id="line2d_47">
     <path d="M 300.967234 797.963953 
L 306.521004 799.719998 
" style="fill: none; stroke: #000000; stroke-width: 1.0; stroke-linecap: square"/>
    </g>
    <g id="text_48">
     <text style="font-size: 11.200px; font-family: 'Liberation Sans', sans-serif; text-anchor: middle" x="315.466141" y="819.308623" transform="rotate(-0 315.466141 819.308623)" dx="0.000" dy="0.432" textLength="6.363" lengthAdjust="spacingAndGlyphs" stroke="#000" stroke-width="0.18">0</text>
    </g>
   </g>
   <g id="xtick_40">
    <g id="line2d_48">
     <path d="M 325.21589 773.123444 
L 330.700054 774.816967 
" style="fill: none; stroke: #000000; stroke-width: 1.0; stroke-linecap: square"/>
    </g>
    <g id="text_49">
     <text style="font-size: 11.200px; font-family: 'Liberation Sans', sans-serif; text-anchor: middle" x="339.473741" y="794.201226" transform="rotate(-0 339.473741 794.201226)" dx="0.000" dy="0.432" textLength="6.363" lengthAdjust="spacingAndGlyphs" stroke="#000" stroke-width="0.18">5</text>
    </g>
   </g>
   <g id="xtick_41">
    <g id="line2d_49">
     <path d="M 348.609265 749.159091 
L 354.025234 750.793371 
" style="fill: none; stroke: #000000; stroke-width: 1.0; stroke-linecap: square"/>
    </g>
    <g id="text_50">
     <text style="font-size: 11.200px; font-family: 'Liberation Sans', sans-serif; text-anchor: middle" x="362.633897" y="769.980096" transform="rotate(-0 362.633897 769.980096)" dx="0.026" dy="0.432" textLength="12.777" lengthAdjust="spacingAndGlyphs" stroke="#000" stroke-width="0.18">10</text>
    </g>
   </g>
   <g id="xtick_42">
    <g id="line2d_50">
     <path d="M 371.191827 726.025341 
L 376.540992 727.603435 
" style="fill: none; stroke: #000000; stroke-width: 1.0; stroke-linecap: square"/>
    </g>
    <g id="text_51">
     <text style="font-size: 11.200px; font-family: 'Liberation Sans', sans-serif; text-anchor: middle" x="384.9907" y="746.599119" transform="rotate(-0 384.9907 746.599119)" dx="0.026" dy="0.432" textLength="12.777" lengthAdjust="spacingAndGlyphs" stroke="#000" stroke-width="0.18">15</text>
    </g>
   </g>
   <g id="text_52">
    <text style="font-size: 11.200px; font-family: 'Liberation Sans', sans-serif; text-anchor: middle" x="359.997763" y="799.487426" transform="rotate(-45.742112 359.997763 799.487426)" dx="0.012" dy="0.432" textLength="35.205" lengthAdjust="spacingAndGlyphs" stroke="#000" stroke-width="0.18">UMAP2</text>
   </g>
  </g>
  <g id="axis3d_9">
   <g id="line2d_51">
    <path d="M 387.688058 711.450147 
L 395.201267 547.380861 
" style="fill: none; stroke: #000000; stroke-width: 1.0; stroke-linecap: square"/>
   </g>
   <g id="xtick_43">
    <g id="line2d_52">
     <path d="M 386.412868 700.081727 
L 391.734272 701.615332 
" style="fill: none; stroke: #000000; stroke-width: 1.0; stroke-linecap: square"/>
    </g>
    <g id="text_53">
     <text style="font-size: 11.200px; font-family: 'Liberation Sans', sans-serif; text-anchor: middle" x="406.505025" y="705.597556" transform="rotate(-0 406.505025 705.597556)" dx="0.006" dy="0.432" textLength="21.117" lengthAdjust="spacingAndGlyphs" stroke="#000" stroke-width="0.18">−10</text>
    </g>
   </g>
   <g id="xtick_44">
    <g id="line2d_53">
     <path d="M 387.68587 671.982682 
L 393.049553 673.49426 
" style="fill: none; stroke: #000000; stroke-width: 1.0; stroke-linecap: square"/>
    </g>
    <g id="text_54">
     <text style="font-size: 11.200px; font-family: 'Liberation Sans', sans-serif; text-anchor: middle" x="407.929372" y="677.528468" transform="rotate(-0 407.929372 677.528468)" dx="0.005" dy="0.432" textLength="14.752" lengthAdjust="spacingAndGlyphs" stroke="#000" stroke-width="0.18">−5</text>
    </g>
   </g>
   <g id="xtick_45">
    <g id="line2d_54">
     <path d="M 388.978495 643.450497 
L 394.385133 644.939184 
" style="fill: none; stroke: #000000; stroke-width: 1.0; stroke-linecap: square"/>
    </g>
    <g id="text_55">
     <text style="font-size: 11.200px; font-family: 'Liberation Sans', sans-serif; text-anchor: middle" x="409.375639" y="649.027413" transform="rotate(-0 409.375639 649.027413)" dx="0.000" dy="0.432" textLength="6.363" lengthAdjust="spacingAndGlyphs" stroke="#000" stroke-width="0.18">0</text>
    </g>
   </g>
   <g id="xtick_46">
    <g id="line2d_55">
     <path d="M 390.2912 614.47508 
L 395.741487 615.939978 
" style="fill: none; stroke: #000000; stroke-width: 1.0; stroke-linecap: square"/>
    </g>
    <g id="text_56">
     <text style="font-size: 11.200px; font-family: 'Liberation Sans', sans-serif; text-anchor: middle" x="410.844336" y="620.084342" transform="rotate(-0 410.844336 620.084342)" dx="0.000" dy="0.432" textLength="6.363" lengthAdjust="spacingAndGlyphs" stroke="#000" stroke-width="0.18">5</text>
    </g>
   </g>
   <g id="xtick_47">
    <g id="line2d_56">
     <path d="M 391.624457 585.04602 
L 397.119102 586.486199 
" style="fill: none; stroke: #000000; stroke-width: 1.0; stroke-linecap: square"/>
    </g>
    <g id="text_57">
     <text style="font-size: 11.200px; font-family: 'Liberation Sans', sans-serif; text-anchor: middle" x="412.335988" y="590.688892" transform="rotate(-0 412.335988 590.688892)" dx="0.026" dy="0.432" textLength="12.777" lengthAdjust="spacingAndGlyphs" stroke="#000" stroke-width="0.18">10</text>
    </g>
   </g>
   <g id="xtick_48">
    <g id="line2d_57">
     <path d="M 392.978752 555.15258 
L 398.518481 556.567074 
" style="fill: none; stroke: #000000; stroke-width: 1.0; stroke-linecap: square"/>
    </g>
    <g id="text_58">
     <text style="font-size: 11.200px; font-family: 'Liberation Sans', sans-serif; text-anchor: middle" x="413.851139" y="560.830374" transform="rotate(-0 413.851139 560.830374)" dx="0.026" dy="0.432" textLength="12.777" lengthAdjust="spacingAndGlyphs" stroke="#000" stroke-width="0.18">15</text>
    </g>
   </g>
   <g id="text_59">
    <text style="font-size: 11.200px; font-family: 'Liberation Sans', sans-serif; text-anchor: middle" x="434.583324" y="625.917739" transform="rotate(-87.378092 434.583324 625.917739)" dx="0.012" dy="0.432" textLength="35.205" lengthAdjust="spacingAndGlyphs" stroke="#000" stroke-width="0.18">UMAP3</text>
   </g>
  </g>
  <g id="axes_3">
   <g id="text_60">
    <text style="font-weight: 700; font-size: 12.000px; font-family: 'Liberation Sans', sans-serif; text-anchor: middle" x="214.604348" y="454.891304" transform="rotate(-0 214.604348 454.891304)" dx="-0.002" dy="0.000" textLength="181.160" lengthAdjust="spacingAndGlyphs" stroke="#000" stroke-width="0.23">UMAP by Source Sequence</text>
   </g>
  </g>
  <g id="patch_14">
   <path d="M 468.182609 858.182609 
L 865.486957 858.182609 
L 865.486957 460.878261 
L 468.182609 460.878261 
z
" style="fill: #ffffff"/>
  </g>
  <g id="pane3d_10">
   <g id="patch_15">
    <path d="M 498.181827 760.220089 
L 629.384698 650.243241 
L 627.560852 491.636966 
L 490.079248 591.964779 
" style="fill: #f2f2f2; opacity: 0.5; stroke: #f2f2f2; stroke-linejoin: miter"/>
   </g>
  </g>
  <g id="pane3d_11">
   <g id="patch_16">
    <path d="M 629.384698 650.243241 
L 839.918492 711.437103 
L 847.431701 547.367817 
L 627.560852 491.636966 
" style="fill: #e6e6e6; opacity: 0.5; stroke: #e6e6e6; stroke-linejoin: miter"/>
   </g>
  </g>
  <g id="pane3d_12">
   <g id="patch_17">
    <path d="M 498.181827 760.220089 
L 721.357932 833.109405 
L 839.918492 711.437103 
L 629.384698 650.243241 
" style="fill: #ececec; opacity: 0.5; stroke: #ececec; stroke-linejoin: miter"/>
   </g>
  </g>
  <g id="grid3d_10">
   <g id="Line3DCollection_10">
    <path d="M 521.355134 767.788491 
L 651.331946 656.62244 
L 650.438142 497.435692 
" style="fill: none; stroke: #a0a0a0; stroke-width: 1.0"/>
    <path d="M 547.552056 776.344406 
L 676.118573 663.826933 
L 676.287233 503.987683 
" style="fill: none; stroke: #a0a0a0; stroke-width: 1.0"/>
    <path d="M 574.082273 785.009175 
L 701.194351 671.115472 
L 702.45094 510.61942 
" style="fill: none; stroke: #a0a0a0; stroke-width: 1.0"/>
    <path d="M 600.952188 793.784889 
L 726.56437 678.489535 
L 728.935042 517.332368 
" style="fill: none; stroke: #a0a0a0; stroke-width: 1.0"/>
    <path d="M 628.168367 802.673693 
L 752.233838 685.950636 
L 755.745459 524.128027 
" style="fill: none; stroke: #a0a0a0; stroke-width: 1.0"/>
    <path d="M 655.737545 811.677786 
L 778.208089 693.500325 
L 782.888261 531.007936 
" style="fill: none; stroke: #a0a0a0; stroke-width: 1.0"/>
    <path d="M 683.666636 820.799428 
L 804.492584 701.14019 
L 810.369668 537.973672 
" style="fill: none; stroke: #a0a0a0; stroke-width: 1.0"/>
    <path d="M 711.962735 830.040933 
L 831.092914 708.871856 
L 838.196054 545.02685 
" style="fill: none; stroke: #a0a0a0; stroke-width: 1.0"/>
   </g>
  </g>
  <g id="grid3d_11">
   <g id="Line3DCollection_11">
    <path d="M 497.533987 586.52465 
L 505.270605 754.278135 
L 727.790463 826.508045 
" style="fill: none; stroke: #a0a0a0; stroke-width: 1.0"/>
    <path d="M 514.831696 573.90157 
L 521.730382 740.481223 
L 742.714617 811.192192 
" style="fill: none; stroke: #a0a0a0; stroke-width: 1.0"/>
    <path d="M 531.760851 561.547444 
L 537.854675 726.965521 
L 757.31854 796.204974 
" style="fill: none; stroke: #a0a0a0; stroke-width: 1.0"/>
    <path d="M 548.333104 549.453768 
L 553.653636 713.722519 
L 771.612432 781.535925 
" style="fill: none; stroke: #a0a0a0; stroke-width: 1.0"/>
    <path d="M 564.559626 537.612391 
L 569.137013 700.744045 
L 785.606059 767.175021 
" style="fill: none; stroke: #a0a0a0; stroke-width: 1.0"/>
    <path d="M 580.451123 526.015501 
L 584.314169 688.022252 
L 799.308786 753.112652 
" style="fill: none; stroke: #a0a0a0; stroke-width: 1.0"/>
    <path d="M 596.017865 514.655601 
L 599.194098 675.5496 
L 812.72959 739.339606 
" style="fill: none; stroke: #a0a0a0; stroke-width: 1.0"/>
    <path d="M 611.269707 503.525502 
L 613.785448 663.318842 
L 825.877082 725.847044 
" style="fill: none; stroke: #a0a0a0; stroke-width: 1.0"/>
   </g>
  </g>
  <g id="grid3d_12">
   <g id="Line3DCollection_12">
    <path d="M 840.297313 703.164634 
L 629.292554 642.230174 
L 497.773944 751.750131 
" style="fill: none; stroke: #a0a0a0; stroke-width: 1.0"/>
    <path d="M 841.298727 681.296299 
L 629.049066 621.05579 
L 496.695368 729.3528 
" style="fill: none; stroke: #a0a0a0; stroke-width: 1.0"/>
    <path d="M 842.312145 659.165842 
L 628.802798 599.639739 
L 495.60337 706.676761 
" style="fill: none; stroke: #a0a0a0; stroke-width: 1.0"/>
    <path d="M 843.337784 636.768522 
L 628.553704 577.977858 
L 494.497699 683.716779 
" style="fill: none; stroke: #a0a0a0; stroke-width: 1.0"/>
    <path d="M 844.375865 614.099482 
L 628.301734 556.06589 
L 493.378095 660.467486 
" style="fill: none; stroke: #a0a0a0; stroke-width: 1.0"/>
    <path d="M 845.426617 591.153747 
L 628.046838 533.89948 
L 492.244294 636.923381 
" style="fill: none; stroke: #a0a0a0; stroke-width: 1.0"/>
    <path d="M 846.490272 567.926222 
L 627.788964 511.474169 
L 491.096025 613.078819 
" style="fill: none; stroke: #a0a0a0; stroke-width: 1.0"/>
   </g>
  </g>
  <g id="axis3d_10">
   <g id="line2d_58">
    <path d="M 498.181827 760.220089 
L 721.357932 833.109405 
" style="fill: none; stroke: #000000; stroke-width: 1.0; stroke-linecap: square"/>
   </g>
   <g id="xtick_49">
    <g id="line2d_59">
     <path d="M 522.487179 766.82028 
L 519.086173 769.729078 
" style="fill: none; stroke: #000000; stroke-width: 1.0; stroke-linecap: square"/>
    </g>
    <g id="text_61">
     <text style="font-size: 11.200px; font-family: 'Liberation Sans', sans-serif; text-anchor: middle" x="513.841778" y="791.12298" transform="rotate(-0 513.841778 791.12298)" dx="0.006" dy="0.432" textLength="21.117" lengthAdjust="spacingAndGlyphs" stroke="#000" stroke-width="0.18">−15</text>
    </g>
   </g>
   <g id="xtick_50">
    <g id="line2d_60">
     <path d="M 548.672394 775.36392 
L 545.306529 778.309622 
" style="fill: none; stroke: #000000; stroke-width: 1.0; stroke-linecap: square"/>
    </g>
    <g id="text_62">
     <text style="font-size: 11.200px; font-family: 'Liberation Sans', sans-serif; text-anchor: middle" x="540.056799" y="799.800075" transform="rotate(-0 540.056799 799.800075)" dx="0.006" dy="0.432" textLength="21.117" lengthAdjust="spacingAndGlyphs" stroke="#000" stroke-width="0.18">−10</text>
    </g>
   </g>
   <g id="xtick_51">
    <g id="line2d_61">
     <path d="M 575.190515 784.016179 
L 571.860963 786.999491 
" style="fill: none; stroke: #000000; stroke-width: 1.0; stroke-linecap: square"/>
    </g>
    <g id="text_63">
     <text style="font-size: 11.200px; font-family: 'Liberation Sans', sans-serif; text-anchor: middle" x="566.606188" y="808.587845" transform="rotate(-0 566.606188 808.587845)" dx="0.005" dy="0.432" textLength="14.752" lengthAdjust="spacingAndGlyphs" stroke="#000" stroke-width="0.18">−5</text>
    </g>
   </g>
   <g id="xtick_52">
    <g id="line2d_62">
     <path d="M 602.04793 792.779143 
L 598.755901 795.80079 
" style="fill: none; stroke: #000000; stroke-width: 1.0; stroke-linecap: square"/>
    </g>
    <g id="text_64">
     <text style="font-size: 11.200px; font-family: 'Liberation Sans', sans-serif; text-anchor: middle" x="593.496384" y="817.488421" transform="rotate(-0 593.496384 817.488421)" dx="0.000" dy="0.432" textLength="6.363" lengthAdjust="spacingAndGlyphs" stroke="#000" stroke-width="0.18">0</text>
    </g>
   </g>
   <g id="xtick_53">
    <g id="line2d_63">
     <path d="M 629.251194 801.654949 
L 625.997934 804.715675 
" style="fill: none; stroke: #000000; stroke-width: 1.0; stroke-linecap: square"/>
    </g>
    <g id="text_65">
     <text style="font-size: 11.200px; font-family: 'Liberation Sans', sans-serif; text-anchor: middle" x="620.73399" y="826.503989" transform="rotate(-0 620.73399 826.503989)" dx="0.000" dy="0.432" textLength="6.363" lengthAdjust="spacingAndGlyphs" stroke="#000" stroke-width="0.18">5</text>
    </g>
   </g>
   <g id="xtick_54">
    <g id="line2d_64">
     <path d="M 656.80703 810.645791 
L 653.593826 813.746359 
" style="fill: none; stroke: #000000; stroke-width: 1.0; stroke-linecap: square"/>
    </g>
    <g id="text_66">
     <text style="font-size: 11.200px; font-family: 'Liberation Sans', sans-serif; text-anchor: middle" x="648.325784" y="835.636792" transform="rotate(-0 648.325784 835.636792)" dx="0.026" dy="0.432" textLength="12.777" lengthAdjust="spacingAndGlyphs" stroke="#000" stroke-width="0.18">10</text>
    </g>
   </g>
   <g id="xtick_55">
    <g id="line2d_65">
     <path d="M 684.722337 819.753921 
L 681.550517 822.895114 
" style="fill: none; stroke: #000000; stroke-width: 1.0; stroke-linecap: square"/>
    </g>
    <g id="text_67">
     <text style="font-size: 11.200px; font-family: 'Liberation Sans', sans-serif; text-anchor: middle" x="676.278718" y="844.889132" transform="rotate(-0 676.278718 844.889132)" dx="0.026" dy="0.432" textLength="12.777" lengthAdjust="spacingAndGlyphs" stroke="#000" stroke-width="0.18">15</text>
    </g>
   </g>
   <g id="xtick_56">
    <g id="line2d_66">
     <path d="M 713.004195 828.981648 
L 709.875127 832.164269 
" style="fill: none; stroke: #000000; stroke-width: 1.0; stroke-linecap: square"/>
    </g>
    <g id="text_68">
     <text style="font-size: 11.200px; font-family: 'Liberation Sans', sans-serif; text-anchor: middle" x="704.599931" y="854.26337" transform="rotate(-0 704.599931 854.26337)" dx="0.026" dy="0.432" textLength="12.777" lengthAdjust="spacingAndGlyphs" stroke="#000" stroke-width="0.18">20</text>
    </g>
   </g>
   <g id="text_69">
    <text style="font-size: 11.200px; font-family: 'Liberation Sans', sans-serif; text-anchor: middle" x="589.724501" y="833.502549" transform="rotate(-341.912962 589.724501 833.502549)" dx="0.012" dy="0.432" textLength="35.205" lengthAdjust="spacingAndGlyphs" stroke="#000" stroke-width="0.18">UMAP1</text>
   </g>
  </g>
  <g id="axis3d_11">
   <g id="line2d_67">
    <path d="M 839.918492 711.437103 
L 721.357932 833.109405 
" style="fill: none; stroke: #000000; stroke-width: 1.0; stroke-linecap: square"/>
   </g>
   <g id="xtick_57">
    <g id="line2d_68">
     <path d="M 725.915159 825.899322 
L 731.545927 827.727068 
" style="fill: none; stroke: #000000; stroke-width: 1.0; stroke-linecap: square"/>
    </g>
    <g id="text_70">
     <text style="font-size: 11.200px; font-family: 'Liberation Sans', sans-serif; text-anchor: middle" x="740.68444" y="847.545152" transform="rotate(-0 740.68444 847.545152)" dx="0.006" dy="0.432" textLength="21.117" lengthAdjust="spacingAndGlyphs" stroke="#000" stroke-width="0.18">−20</text>
    </g>
   </g>
   <g id="xtick_58">
    <g id="line2d_69">
     <path d="M 740.853279 810.596598 
L 746.44206 812.384907 
" style="fill: none; stroke: #000000; stroke-width: 1.0; stroke-linecap: square"/>
    </g>
    <g id="text_71">
     <text style="font-size: 11.200px; font-family: 'Liberation Sans', sans-serif; text-anchor: middle" x="755.474631" y="832.077417" transform="rotate(-0 755.474631 832.077417)" dx="0.006" dy="0.432" textLength="21.117" lengthAdjust="spacingAndGlyphs" stroke="#000" stroke-width="0.18">−15</text>
    </g>
   </g>
   <g id="xtick_59">
    <g id="line2d_70">
     <path d="M 755.471004 795.622088 
L 761.018295 797.372223 
" style="fill: none; stroke: #000000; stroke-width: 1.0; stroke-linecap: square"/>
    </g>
    <g id="text_72">
     <text style="font-size: 11.200px; font-family: 'Liberation Sans', sans-serif; text-anchor: middle" x="769.947342" y="816.941706" transform="rotate(-0 769.947342 816.941706)" dx="0.006" dy="0.432" textLength="21.117" lengthAdjust="spacingAndGlyphs" stroke="#000" stroke-width="0.18">−10</text>
    </g>
   </g>
   <g id="xtick_60">
    <g id="line2d_71">
     <path d="M 769.778533 780.965345 
L 775.284827 782.678516 
" style="fill: none; stroke: #000000; stroke-width: 1.0; stroke-linecap: square"/>
    </g>
    <g id="text_73">
     <text style="font-size: 11.200px; font-family: 'Liberation Sans', sans-serif; text-anchor: middle" x="784.112686" y="802.127442" transform="rotate(-0 784.112686 802.127442)" dx="0.005" dy="0.432" textLength="14.752" lengthAdjust="spacingAndGlyphs" stroke="#000" stroke-width="0.18">−5</text>
    </g>
   </g>
   <g id="xtick_61">
    <g id="line2d_72">
     <path d="M 783.785636 766.616361 
L 789.251421 768.293726 
" style="fill: none; stroke: #000000; stroke-width: 1.0; stroke-linecap: square"/>
    </g>
    <g id="text_74">
     <text style="font-size: 11.200px; font-family: 'Liberation Sans', sans-serif; text-anchor: middle" x="797.980352" y="787.624493" transform="rotate(-0 797.980352 787.624493)" dx="0.000" dy="0.432" textLength="6.363" lengthAdjust="spacingAndGlyphs" stroke="#000" stroke-width="0.18">0</text>
    </g>
   </g>
   <g id="xtick_62">
    <g id="line2d_73">
     <path d="M 797.501677 752.565544 
L 802.92744 754.208213 
" style="fill: none; stroke: #000000; stroke-width: 1.0; stroke-linecap: square"/>
    </g>
    <g id="text_75">
     <text style="font-size: 11.200px; font-family: 'Liberation Sans', sans-serif; text-anchor: middle" x="811.559627" y="773.423147" transform="rotate(-0 811.559627 773.423147)" dx="0.000" dy="0.432" textLength="6.363" lengthAdjust="spacingAndGlyphs" stroke="#000" stroke-width="0.18">5</text>
    </g>
   </g>
   <g id="xtick_63">
    <g id="line2d_74">
     <path d="M 810.935635 738.803694 
L 816.321857 740.412733 
" style="fill: none; stroke: #000000; stroke-width: 1.0; stroke-linecap: square"/>
    </g>
    <g id="text_76">
     <text style="font-size: 11.200px; font-family: 'Liberation Sans', sans-serif; text-anchor: middle" x="824.859413" y="759.514092" transform="rotate(-0 824.859413 759.514092)" dx="0.026" dy="0.432" textLength="12.777" lengthAdjust="spacingAndGlyphs" stroke="#000" stroke-width="0.18">10</text>
    </g>
   </g>
   <g id="xtick_64">
    <g id="line2d_75">
     <path d="M 824.096124 725.321988 
L 829.443281 726.89842 
" style="fill: none; stroke: #000000; stroke-width: 1.0; stroke-linecap: square"/>
    </g>
    <g id="text_77">
     <text style="font-size: 11.200px; font-family: 'Liberation Sans', sans-serif; text-anchor: middle" x="837.888251" y="745.888398" transform="rotate(-0 837.888251 745.888398)" dx="0.026" dy="0.432" textLength="12.777" lengthAdjust="spacingAndGlyphs" stroke="#000" stroke-width="0.18">15</text>
    </g>
   </g>
   <g id="text_78">
    <text style="font-size: 11.200px; font-family: 'Liberation Sans', sans-serif; text-anchor: middle" x="812.228198" y="799.474383" transform="rotate(-45.742112 812.228198 799.474383)" dx="0.012" dy="0.432" textLength="35.205" lengthAdjust="spacingAndGlyphs" stroke="#000" stroke-width="0.18">UMAP2</text>
   </g>
  </g>
  <g id="axis3d_12">
   <g id="line2d_76">
    <path d="M 839.918492 711.437103 
L 847.431701 547.367817 
" style="fill: none; stroke: #000000; stroke-width: 1.0; stroke-linecap: square"/>
   </g>
   <g id="xtick_65">
    <g id="line2d_77">
     <path d="M 838.526215 702.653172 
L 843.843731 704.188777 
" style="fill: none; stroke: #000000; stroke-width: 1.0; stroke-linecap: square"/>
    </g>
    <g id="text_79">
     <text style="font-size: 11.200px; font-family: 'Liberation Sans', sans-serif; text-anchor: middle" x="858.60445" y="708.166281" transform="rotate(-0 858.60445 708.166281)" dx="0.006" dy="0.432" textLength="21.117" lengthAdjust="spacingAndGlyphs" stroke="#000" stroke-width="0.18">−10</text>
    </g>
   </g>
   <g id="xtick_66">
    <g id="line2d_78">
     <path d="M 839.516682 680.790521 
L 844.867091 682.309069 
" style="fill: none; stroke: #000000; stroke-width: 1.0; stroke-linecap: square"/>
    </g>
    <g id="text_80">
     <text style="font-size: 11.200px; font-family: 'Liberation Sans', sans-serif; text-anchor: middle" x="859.712678" y="686.326828" transform="rotate(-0 859.712678 686.326828)" dx="0.005" dy="0.432" textLength="14.752" lengthAdjust="spacingAndGlyphs" stroke="#000" stroke-width="0.18">−5</text>
    </g>
   </g>
   <g id="xtick_67">
    <g id="line2d_79">
     <path d="M 840.519017 658.665921 
L 845.902727 660.166891 
" style="fill: none; stroke: #000000; stroke-width: 1.0; stroke-linecap: square"/>
    </g>
    <g id="text_81">
     <text style="font-size: 11.200px; font-family: 'Liberation Sans', sans-serif; text-anchor: middle" x="860.834163" y="664.226132" transform="rotate(-0 860.834163 664.226132)" dx="0.000" dy="0.432" textLength="6.363" lengthAdjust="spacingAndGlyphs" stroke="#000" stroke-width="0.18">0</text>
    </g>
   </g>
   <g id="xtick_68">
    <g id="line2d_80">
     <path d="M 841.533434 636.274636 
L 846.950861 637.757493 
" style="fill: none; stroke: #000000; stroke-width: 1.0; stroke-linecap: square"/>
    </g>
    <g id="text_82">
     <text style="font-size: 11.200px; font-family: 'Liberation Sans', sans-serif; text-anchor: middle" x="861.969144" y="641.859478" transform="rotate(-0 861.969144 641.859478)" dx="0.000" dy="0.432" textLength="6.363" lengthAdjust="spacingAndGlyphs" stroke="#000" stroke-width="0.18">5</text>
    </g>
   </g>
   <g id="xtick_69">
    <g id="line2d_81">
     <path d="M 842.560153 613.611815 
L 848.011721 615.076007 
" style="fill: none; stroke: #000000; stroke-width: 1.0; stroke-linecap: square"/>
    </g>
    <g id="text_83">
     <text style="font-size: 11.200px; font-family: 'Liberation Sans', sans-serif; text-anchor: middle" x="863.117866" y="619.222037" transform="rotate(-0 863.117866 619.222037)" dx="0.026" dy="0.432" textLength="12.777" lengthAdjust="spacingAndGlyphs" stroke="#000" stroke-width="0.18">10</text>
    </g>
   </g>
   <g id="xtick_70">
    <g id="line2d_82">
     <path d="M 843.599399 590.672488 
L 849.085541 592.117448 
" style="fill: none; stroke: #000000; stroke-width: 1.0; stroke-linecap: square"/>
    </g>
    <g id="text_84">
     <text style="font-size: 11.200px; font-family: 'Liberation Sans', sans-serif; text-anchor: middle" x="864.28058" y="596.308861" transform="rotate(-0 864.28058 596.308861)" dx="0.026" dy="0.432" textLength="12.777" lengthAdjust="spacingAndGlyphs" stroke="#000" stroke-width="0.18">15</text>
    </g>
   </g>
   <g id="xtick_71">
    <g id="line2d_83">
     <path d="M 844.651402 567.451565 
L 850.172559 568.876708 
" style="fill: none; stroke: #000000; stroke-width: 1.0; stroke-linecap: square"/>
    </g>
    <g id="text_85">
     <text style="font-size: 11.200px; font-family: 'Liberation Sans', sans-serif; text-anchor: middle" x="865.457542" y="573.11488" transform="rotate(-0 865.457542 573.11488)" dx="0.026" dy="0.432" textLength="12.777" lengthAdjust="spacingAndGlyphs" stroke="#000" stroke-width="0.18">20</text>
    </g>
   </g>
   <g id="text_86">
    <text style="font-size: 11.200px; font-family: 'Liberation Sans', sans-serif; text-anchor: middle" x="886.813758" y="625.904696" transform="rotate(-87.378092 886.813758 625.904696)" dx="0.012" dy="0.432" textLength="35.205" lengthAdjust="spacingAndGlyphs" stroke="#000" stroke-width="0.18">UMAP3</text>
   </g>
  </g>
  <g id="axes_4">
   <g id="text_87">
    <text style="font-weight: 700; font-size: 12.000px; font-family: 'Liberation Sans', sans-serif; text-anchor: middle" x="666.834783" y="454.878261" transform="rotate(-0 666.834783 454.878261)" dx="0.010" dy="0.000" textLength="250.412" lengthAdjust="spacingAndGlyphs" stroke="#000" stroke-width="0.23">UMAP by Target Sequence (with ROI)</text>
   </g>
  </g>
  <g id="blobs" transform="scale(1.304348)">
<polyline points="94.1,108.3 100.0,107.0 106.0,105.6 113.5,104.9 120.0,104.7 132.4,104.9 140.0,105.6 147.6,106.5 152.0,107.3" fill="none" stroke="#ff7f0e" stroke-width="1.30" stroke-linecap="round" stroke-linejoin="round"/>
<polygon points="145.0,105.5 150.8,106.7 156.7,107.9 162.5,108.8 167.2,109.6 170.7,111.1 173.6,112.8 175.4,114.6 176.0,116.1 175.4,117.5 174.2,119.3 172.7,121.0 172.2,123.4 171.6,126.3 170.7,129.2 169.5,131.5 168.9,131.0 169.8,128.0 170.4,125.1 170.7,122.2 169.5,120.4 167.2,118.7 164.3,116.9 161.9,115.2 159.6,112.8 157.8,110.5 154.9,108.8 150.8,107.6 145.0,106.9" fill="#ff7f0e" stroke="#ff7f0e" stroke-width="0.50" stroke-linejoin="round"/>
<polygon points="147.2,130.3 155.3,130.0 168.6,130.8 184.0,131.0 196.2,130.8 196.7,131.6 186.0,133.8 178.8,135.4 173.7,135.9 168.6,134.3 160.4,132.3 152.3,131.3 147.2,131.0" fill="#2ca02c" stroke="#2ca02c" stroke-width="0.50" stroke-linejoin="round"/>
<polyline points="201.3,132.0 204.9,132.5" fill="none" stroke="#2ca02c" stroke-width="1.00" stroke-linecap="round" stroke-linejoin="round"/>
<polygon points="86.0,144.0 95.0,143.9 101.0,143.7 104.0,143.0 110.0,142.6 114.0,143.4 116.9,141.8 119.8,141.3 123.3,141.0 126.8,141.8 131.5,143.6 136.2,145.9 140.3,148.3 143.8,150.6 145.8,153.5 146.7,156.4 147.9,159.4 150.2,161.7 151.1,163.7 149.0,163.4 145.5,161.1 143.2,159.4 140.9,156.4 138.5,154.7 136.2,153.5 132.7,152.9 131.5,152.4 129.2,151.2 126.3,149.4 125.7,148.0 121.6,147.0 117.5,147.1 114.0,147.4 112.0,147.0 106.0,146.6 101.0,146.0 95.0,145.3 86.0,145.1" fill="#8a4e43" stroke="#8a4e43" stroke-width="0.50" stroke-linejoin="round"/>
<polygon points="120.0,145.2 123.0,144.0 127.0,144.6 131.0,146.5 133.5,148.5 129.5,147.9 125.0,146.6 121.5,146.3" fill="#f3f3f3" fill-opacity="0.85"/>
<polyline points="113.9,157.8 118.5,161.3" fill="none" stroke="#7f7f7f" stroke-width="1.20" stroke-linecap="round" stroke-linejoin="round"/>
<polyline points="120.3,163.0 122.0,163.9 126.6,167.2 128.6,170.0 127.3,173.1 124.6,175.8 119.4,177.1 111.5,177.7" fill="none" stroke="#7f7f7f" stroke-width="1.30" stroke-linecap="round" stroke-linejoin="round"/>
<polyline points="126.6,167.5 131.2,169.9" fill="none" stroke="#7f7f7f" stroke-width="1.00" stroke-linecap="round" stroke-linejoin="round"/>
<polygon points="81.8,190.7 83.5,185.9 87.0,182.4 90.5,179.8 94.0,178.0 101.9,176.3 110.6,176.7 117.7,177.2 117.7,178.2 111.5,180.7 104.5,182.4 97.5,182.4 91.4,183.3 87.0,185.0 83.5,188.5" fill="#7f7f7f" stroke="#7f7f7f" stroke-width="0.50" stroke-linejoin="round"/>
<polyline points="91.8,181.0 87.5,183.0 83.7,186.9 82.2,189.9" fill="none" stroke="#7f7f7f" stroke-width="1.40" stroke-linecap="round" stroke-linejoin="round"/>
<polyline points="76.1,197.3 78.1,195.6" fill="none" stroke="#7f7f7f" stroke-width="1.40" stroke-linecap="round" stroke-linejoin="round"/>
<polyline points="72.3,202.4 73.6,201.1" fill="none" stroke="#7f7f7f" stroke-width="1.30" stroke-linecap="round" stroke-linejoin="round"/>
<polyline points="68.1,207.6 71.1,204.1" fill="none" stroke="#7f7f7f" stroke-width="1.30" stroke-linecap="round" stroke-linejoin="round"/>
<polyline points="64.0,213.2 66.3,209.7" fill="none" stroke="#7f7f7f" stroke-width="1.30" stroke-linecap="round" stroke-linejoin="round"/>
<polygon points="101.2,183.0 102.8,183.4 102.9,183.8 100.5,191.4 98.6,197.5 96.3,202.9 93.6,208.2 90.6,212.8 86.8,219.6 83.7,223.4 80.7,226.5 79.1,228.8 78.2,228.4 78.4,225.0 81.4,222.7 82.6,218.1 86.0,212.0 88.3,208.2 92.1,202.9 94.4,198.3 97.4,193.0 100.9,184.6" fill="#9467bd" stroke="#9467bd" stroke-width="0.50" stroke-linejoin="round"/>
<polygon points="156.7,169.9 157.3,169.3 163.7,172.8 170.7,176.4 177.7,178.7 185.9,181.0 194.1,182.8 201.1,183.4 203.4,185.1 203.4,187.4 199.9,190.4 194.1,190.9 187.0,189.8 180.0,187.4 174.2,184.5 168.4,180.4 162.5,176.4 157.8,171.7" fill="#62cfd6" stroke="#62cfd6" stroke-width="0.50" stroke-linejoin="round"/>
<ellipse cx="176.5" cy="181.2" rx="1.6" ry="0.8" fill="#f0f0f0" fill-opacity="0.85" transform="rotate(25 176.5 181.2)"/>
<ellipse cx="172.0" cy="178.3" rx="0.9" ry="0.6" fill="#f0f0f0" fill-opacity="0.85" transform="rotate(25 172.0 178.3)"/>
<ellipse cx="190.0" cy="185.5" rx="0.8" ry="0.5" fill="#f0f0f0" fill-opacity="0.85" transform="rotate(25 190.0 185.5)"/>
<ellipse cx="165.0" cy="175.5" rx="0.8" ry="0.5" fill="#f0f0f0" fill-opacity="0.85" transform="rotate(25 165.0 175.5)"/>
<ellipse cx="168.5" cy="177.5" rx="0.7" ry="0.4" fill="#f0f0f0" fill-opacity="0.85" transform="rotate(25 168.5 177.5)"/>
<ellipse cx="182.0" cy="183.5" rx="0.9" ry="0.5" fill="#f0f0f0" fill-opacity="0.85" transform="rotate(25 182.0 183.5)"/>
<ellipse cx="196.0" cy="187.5" rx="0.7" ry="0.5" fill="#f0f0f0" fill-opacity="0.85" transform="rotate(25 196.0 187.5)"/>
<ellipse cx="160.5" cy="172.8" rx="0.6" ry="0.4" fill="#f0f0f0" fill-opacity="0.85" transform="rotate(25 160.5 172.8)"/>
<polygon points="156.1,204.4 160.2,206.7 164.9,207.3 169.5,207.9 173.6,207.3 174.2,206.1 175.2,206.5 176.5,210.2 175.4,212.0 171.9,211.4 169.5,213.7 166.0,214.3 162.5,212.6 159.0,209.6 156.7,206.1" fill="#1f77b4" stroke="#1f77b4" stroke-width="0.50" stroke-linejoin="round"/>
<polyline points="147.9,198.3 150.8,200.3" fill="none" stroke="#1f77b4" stroke-width="1.30" stroke-linecap="round" stroke-linejoin="round"/>
<polyline points="152.0,198.5 155.0,200.5 159.0,202.6" fill="none" stroke="#1f77b4" stroke-width="1.30" stroke-linecap="round" stroke-linejoin="round"/>
<polyline points="154.9,203.2 157.8,206.1" fill="none" stroke="#1f77b4" stroke-width="1.30" stroke-linecap="round" stroke-linejoin="round"/>
<polygon points="104.4,231.4 108.8,233.0 114.6,235.2 121.9,236.0 130.7,236.1 138.0,237.0 143.8,237.6 146.7,238.5 141.6,239.2 138.0,238.5 130.7,237.4 121.9,237.4 114.6,236.3 108.8,234.1 104.4,232.3" fill="#b9c02a" stroke="#b9c02a" stroke-width="0.50" stroke-linejoin="round"/>
<polygon points="141.6,239.2 143.8,237.6 146.7,238.5 147.8,239.6 146.7,241.8 143.8,244.0 139.4,246.2 134.3,248.4 129.2,250.9 124.8,253.5 124.1,254.2 124.5,253.1 129.2,249.5 133.6,246.2 138.7,244.0 141.2,241.8 142.0,239.6" fill="#b9c02a" stroke="#b9c02a" stroke-width="0.50" stroke-linejoin="round"/>
<polyline points="204.0,192.1 208.1,191.6 212.2,192.7" fill="none" stroke="#b9c02a" stroke-width="1.20" stroke-linecap="round" stroke-linejoin="round"/>
<circle cx="98.3" cy="124.4" r="0.70" fill="#1f77b4"/>
<circle cx="132.6" cy="156.4" r="0.70" fill="#1f77b4"/>
<circle cx="152.6" cy="166.7" r="0.70" fill="#17becf"/>
<circle cx="89.4" cy="173.8" r="0.70" fill="#b9c02a"/>
<circle cx="70.4" cy="202.9" r="0.70" fill="#b9c02a"/>
<circle cx="102.4" cy="203.8" r="0.70" fill="#1f77b4"/>
<circle cx="218.3" cy="178.1" r="0.70" fill="#7f7f7f"/>
<circle cx="227.7" cy="211.4" r="0.70" fill="#7f7f7f"/>
<circle cx="173.4" cy="240.5" r="0.70" fill="#1f77b4"/>
<circle cx="196.4" cy="241.1" r="0.70" fill="#b9c02a"/>
<polyline points="458.4,108.2 464.3,106.9 470.3,105.5 477.8,104.8 484.3,104.6 496.7,104.8 504.3,105.5 511.9,106.4 516.3,107.2" fill="none" stroke="#0000ff" stroke-width="1.62" stroke-linecap="round" stroke-linejoin="round"/>
<polygon points="509.3,105.4 515.1,106.6 521.0,107.8 526.8,108.7 531.5,109.5 535.0,111.0 537.9,112.7 539.7,114.5 540.3,116.0 539.7,117.4 538.5,119.2 537.0,120.9 536.5,123.3 535.9,126.2 535.0,129.1 533.8,131.4 533.2,130.9 534.1,127.9 534.7,125.0 535.0,122.1 533.8,120.3 531.5,118.6 528.6,116.8 526.2,115.1 523.9,112.7 522.1,110.4 519.2,108.7 515.1,107.5 509.3,106.8" fill="#0000ff" stroke="#0000ff" stroke-width="0.50" stroke-linejoin="round"/>
<polygon points="511.5,130.2 519.6,129.9 532.9,130.7 548.3,130.9 560.5,130.7 561.0,131.5 550.3,133.7 543.1,135.3 538.0,135.8 532.9,134.2 524.7,132.2 516.6,131.2 511.5,130.9" fill="#0000ff" stroke="#0000ff" stroke-width="0.50" stroke-linejoin="round"/>
<polyline points="565.6,131.9 569.2,132.4" fill="none" stroke="#0000ff" stroke-width="1.25" stroke-linecap="round" stroke-linejoin="round"/>
<polygon points="450.3,143.9 459.3,143.8 465.3,143.6 468.3,142.9 474.3,142.5 478.3,143.3 481.2,141.7 484.1,141.2 487.6,140.9 491.1,141.7 495.8,143.5 500.5,145.8 504.6,148.2 508.1,150.5 510.1,153.4 511.0,156.3 512.2,159.3 514.5,161.6 515.4,163.6 513.3,163.3 509.8,161.0 507.5,159.3 505.2,156.3 502.8,154.6 500.5,153.4 497.0,152.8 495.8,152.3 493.5,151.1 490.6,149.3 490.0,147.9 485.9,146.9 481.8,147.0 478.3,147.3 476.3,146.9 470.3,146.5 465.3,145.9 459.3,145.2 450.3,145.0" fill="#0000ff" stroke="#0000ff" stroke-width="0.50" stroke-linejoin="round"/>
<polyline points="478.2,157.7 482.8,161.2" fill="none" stroke="#0000ff" stroke-width="1.50" stroke-linecap="round" stroke-linejoin="round"/>
<polyline points="484.6,162.9 486.3,163.8 490.9,167.1 492.9,169.9 491.6,173.0 488.9,175.7 483.7,177.0 475.8,177.6" fill="none" stroke="#0000ff" stroke-width="1.62" stroke-linecap="round" stroke-linejoin="round"/>
<polyline points="490.9,167.4 495.5,169.8" fill="none" stroke="#0000ff" stroke-width="1.25" stroke-linecap="round" stroke-linejoin="round"/>
<polygon points="446.1,190.6 447.8,185.8 451.3,182.3 454.8,179.7 458.3,177.9 466.2,176.2 474.9,176.6 482.0,177.1 482.0,178.1 475.8,180.6 468.8,182.3 461.8,182.3 455.7,183.2 451.3,184.9 447.8,188.4" fill="#0000ff" stroke="#0000ff" stroke-width="0.50" stroke-linejoin="round"/>
<polyline points="456.1,180.9 451.8,182.9 448.0,186.8 446.5,189.8" fill="none" stroke="#0000ff" stroke-width="1.75" stroke-linecap="round" stroke-linejoin="round"/>
<polyline points="440.4,197.2 442.4,195.5" fill="none" stroke="#0000ff" stroke-width="1.75" stroke-linecap="round" stroke-linejoin="round"/>
<polyline points="436.6,202.3 437.9,201.0" fill="none" stroke="#0000ff" stroke-width="1.62" stroke-linecap="round" stroke-linejoin="round"/>
<polyline points="432.4,207.5 435.4,204.0" fill="none" stroke="#0000ff" stroke-width="1.62" stroke-linecap="round" stroke-linejoin="round"/>
<polyline points="428.3,213.1 430.6,209.6" fill="none" stroke="#0000ff" stroke-width="1.62" stroke-linecap="round" stroke-linejoin="round"/>
<polygon points="465.5,182.9 467.1,183.3 467.2,183.7 464.8,191.3 462.9,197.4 460.6,202.8 457.9,208.1 454.9,212.7 451.1,219.5 448.0,223.3 445.0,226.4 443.4,228.7 442.5,228.3 442.7,224.9 445.7,222.6 446.9,218.0 450.3,211.9 452.6,208.1 456.4,202.8 458.7,198.2 461.7,192.9 465.2,184.5" fill="#0000ff" stroke="#0000ff" stroke-width="0.50" stroke-linejoin="round"/>
<polygon points="521.0,169.8 521.6,169.2 528.0,172.7 535.0,176.3 542.0,178.6 550.2,180.9 558.4,182.7 565.4,183.3 567.7,185.0 567.7,187.3 564.2,190.3 558.4,190.8 551.3,189.7 544.3,187.3 538.5,184.4 532.7,180.3 526.8,176.3 522.1,171.6" fill="#0000ff" stroke="#0000ff" stroke-width="0.50" stroke-linejoin="round"/>
<ellipse cx="540.8" cy="181.1" rx="1.6" ry="0.8" fill="#f0f0f0" fill-opacity="0.85" transform="rotate(25 540.8 181.1)"/>
<ellipse cx="536.3" cy="178.2" rx="0.9" ry="0.6" fill="#f0f0f0" fill-opacity="0.85" transform="rotate(25 536.3 178.2)"/>
<ellipse cx="554.3" cy="185.4" rx="0.8" ry="0.5" fill="#f0f0f0" fill-opacity="0.85" transform="rotate(25 554.3 185.4)"/>
<ellipse cx="529.3" cy="175.4" rx="0.8" ry="0.5" fill="#f0f0f0" fill-opacity="0.85" transform="rotate(25 529.3 175.4)"/>
<ellipse cx="532.8" cy="177.4" rx="0.7" ry="0.4" fill="#f0f0f0" fill-opacity="0.85" transform="rotate(25 532.8 177.4)"/>
<ellipse cx="546.3" cy="183.4" rx="0.9" ry="0.5" fill="#f0f0f0" fill-opacity="0.85" transform="rotate(25 546.3 183.4)"/>
<ellipse cx="560.3" cy="187.4" rx="0.7" ry="0.5" fill="#f0f0f0" fill-opacity="0.85" transform="rotate(25 560.3 187.4)"/>
<ellipse cx="524.8" cy="172.7" rx="0.6" ry="0.4" fill="#f0f0f0" fill-opacity="0.85" transform="rotate(25 524.8 172.7)"/>
<polygon points="520.4,204.3 524.5,206.6 529.2,207.2 533.8,207.8 537.9,207.2 538.5,206.0 539.5,206.4 540.8,210.1 539.7,211.9 536.2,211.3 533.8,213.6 530.3,214.2 526.8,212.5 523.3,209.5 521.0,206.0" fill="#0000ff" stroke="#0000ff" stroke-width="0.50" stroke-linejoin="round"/>
<polyline points="512.2,198.2 515.1,200.2" fill="none" stroke="#0000ff" stroke-width="1.62" stroke-linecap="round" stroke-linejoin="round"/>
<polyline points="516.3,198.4 519.3,200.4 523.3,202.5" fill="none" stroke="#0000ff" stroke-width="1.62" stroke-linecap="round" stroke-linejoin="round"/>
<polyline points="519.2,203.1 522.1,206.0" fill="none" stroke="#0000ff" stroke-width="1.62" stroke-linecap="round" stroke-linejoin="round"/>
<polygon points="468.7,231.3 473.1,232.9 478.9,235.1 486.2,235.9 495.0,236.0 502.3,236.9 508.1,237.5 511.0,238.4 505.9,239.1 502.3,238.4 495.0,237.3 486.2,237.3 478.9,236.2 473.1,234.0 468.7,232.2" fill="#0000ff" stroke="#0000ff" stroke-width="0.50" stroke-linejoin="round"/>
<polygon points="505.9,239.1 508.1,237.5 511.0,238.4 512.1,239.5 511.0,241.7 508.1,243.9 503.7,246.1 498.6,248.3 493.5,250.8 489.1,253.4 488.4,254.1 488.8,253.0 493.5,249.4 497.9,246.1 503.0,243.9 505.5,241.7 506.3,239.5" fill="#0000ff" stroke="#0000ff" stroke-width="0.50" stroke-linejoin="round"/>
<polyline points="568.3,192.0 572.4,191.5 576.5,192.6" fill="none" stroke="#0000ff" stroke-width="1.50" stroke-linecap="round" stroke-linejoin="round"/>
<circle cx="462.6" cy="124.3" r="0.70" fill="#0000ff"/>
<circle cx="496.9" cy="156.3" r="0.70" fill="#0000ff"/>
<circle cx="516.9" cy="166.6" r="0.70" fill="#0000ff"/>
<circle cx="453.7" cy="173.7" r="0.70" fill="#0000ff"/>
<circle cx="434.7" cy="202.8" r="0.70" fill="#0000ff"/>
<circle cx="466.7" cy="203.7" r="0.70" fill="#0000ff"/>
<circle cx="582.6" cy="178.0" r="0.70" fill="#0000ff"/>
<circle cx="592.0" cy="211.3" r="0.70" fill="#0000ff"/>
<circle cx="537.7" cy="240.4" r="0.70" fill="#0000ff"/>
<circle cx="560.7" cy="241.0" r="0.70" fill="#0000ff"/>
<polygon points="520.3,108.2 526.8,108.7 531.5,109.5 535.0,111.0 537.9,112.7 539.7,114.5 540.3,116.0 539.7,117.4 538.5,119.2 537.2,120.7 536.1,122.1 534.9,121.8 533.8,120.3 531.5,118.6 528.6,116.8 526.2,115.1 523.9,112.7 522.1,110.4" fill="#ff0000" stroke="#ff0000" stroke-width="0.50" stroke-linejoin="round"/>
<polygon points="537.3,133.7 544.3,132.3 552.3,131.3 561.2,130.8 561.2,131.7 552.3,133.5 544.3,135.2 540.3,136.1 537.8,135.5" fill="#ff0000" stroke="#ff0000" stroke-width="0.50" stroke-linejoin="round"/>
<polygon points="482.1,141.3 485.3,140.9 489.6,141.5 495.5,143.8 501.3,146.1 506.0,149.0 509.5,152.5 510.9,156.4 510.5,160.7 509.5,160.7 507.2,158.2 503.7,155.9 501.3,152.9 498.4,150.6 494.9,150.0 495.5,148.9 500.2,148.3 495.5,145.4 489.6,143.3 483.8,143.1" fill="#ff0000" stroke="#ff0000" stroke-width="0.50" stroke-linejoin="round"/>
<polygon points="448.3,186.9 451.3,182.9 454.8,180.1 458.3,178.4 466.2,176.7 474.9,177.0 476.8,177.5 475.3,180.2 468.8,181.9 461.8,181.9 455.7,182.8 451.8,184.5 449.3,186.9" fill="#ff0000" stroke="#ff0000" stroke-width="0.50" stroke-linejoin="round"/>
<polygon points="465.8,183.9 466.6,184.4 464.1,191.4 462.0,197.4 459.8,202.4 457.1,207.7 454.1,212.4 450.5,218.4 447.8,221.4 447.1,220.4 448.8,216.4 451.8,211.4 454.1,207.4 457.3,202.4 459.5,197.9 462.5,192.4" fill="#ff0000" stroke="#ff0000" stroke-width="0.50" stroke-linejoin="round"/>
<polygon points="540.5,181.4 544.3,182.2 550.2,181.7 558.4,183.1 564.8,183.8 567.0,185.2 567.0,187.1 564.0,189.7 558.4,190.1 551.3,189.0 545.3,186.9 541.8,184.4" fill="#ff0000" stroke="#ff0000" stroke-width="0.50" stroke-linejoin="round"/>
<polygon points="523.6,206.7 527.3,207.4 531.3,207.7 534.8,208.1 536.4,209.4 535.8,211.9 533.8,213.4 530.3,214.1 526.8,212.4 524.3,209.9" fill="#ff0000" stroke="#ff0000" stroke-width="0.50" stroke-linejoin="round"/>
<polygon points="511.0,238.8 511.5,239.5 510.1,241.0 505.9,243.8 500.1,246.5 495.3,249.4 492.3,251.4 494.3,248.9 499.3,245.2 504.8,241.7 508.5,239.5" fill="#ff0000" stroke="#ff0000" stroke-width="0.50" stroke-linejoin="round"/>
<defs><pattern id="mix" width="6" height="6" patternUnits="userSpaceOnUse"><rect x="0" y="0" width="1" height="1" fill="#1f77b4"/><rect x="1" y="0" width="1" height="1" fill="#bcbd22"/><rect x="2" y="0" width="1" height="1" fill="#9467bd"/><rect x="3" y="0" width="1" height="1" fill="#2ca02c"/><rect x="4" y="0" width="1" height="1" fill="#2ca02c"/><rect x="5" y="0" width="1" height="1" fill="#bcbd22"/><rect x="0" y="1" width="1" height="1" fill="#1f77b4"/><rect x="1" y="1" width="1" height="1" fill="#2ca02c"/><rect x="2" y="1" width="1" height="1" fill="#ff7f0e"/><rect x="3" y="1" width="1" height="1" fill="#2ca02c"/><rect x="4" y="1" width="1" height="1" fill="#2ca02c"/><rect x="5" y="1" width="1" height="1" fill="#9467bd"/><rect x="0" y="2" width="1" height="1" fill="#9467bd"/><rect x="1" y="2" width="1" height="1" fill="#2ca02c"/><rect x="2" y="2" width="1" height="1" fill="#ff7f0e"/><rect x="3" y="2" width="1" height="1" fill="#2ca02c"/><rect x="4" y="2" width="1" height="1" fill="#9467bd"/><rect x="5" y="2" width="1" height="1" fill="#2ca02c"/><rect x="0" y="3" width="1" height="1" fill="#bcbd22"/><rect x="1" y="3" width="1" height="1" fill="#ff7f0e"/><rect x="2" y="3" width="1" height="1" fill="#2ca02c"/><rect x="3" y="3" width="1" height="1" fill="#9467bd"/><rect x="4" y="3" width="1" height="1" fill="#2ca02c"/><rect x="5" y="3" width="1" height="1" fill="#ff7f0e"/><rect x="0" y="4" width="1" height="1" fill="#2ca02c"/><rect x="1" y="4" width="1" height="1" fill="#bcbd22"/><rect x="2" y="4" width="1" height="1" fill="#17becf"/><rect x="3" y="4" width="1" height="1" fill="#9467bd"/><rect x="4" y="4" width="1" height="1" fill="#bcbd22"/><rect x="5" y="4" width="1" height="1" fill="#bcbd22"/><rect x="0" y="5" width="1" height="1" fill="#17becf"/><rect x="1" y="5" width="1" height="1" fill="#ff7f0e"/><rect x="2" y="5" width="1" height="1" fill="#bcbd22"/><rect x="3" y="5" width="1" height="1" fill="#ff7f0e"/><rect x="4" y="5" width="1" height="1" fill="#1f77b4"/><rect x="5" y="5" width="1" height="1" fill="#bcbd22"/></pattern></defs>
<polyline points="109.4,434.9 115.3,433.6 121.3,432.2 128.8,431.5 135.3,431.3 147.7,431.5 155.3,432.2 162.9,433.1 167.3,433.9" fill="none" stroke="#ff7f0e" stroke-width="1.30" stroke-linecap="round" stroke-linejoin="round"/>
<polygon points="160.3,432.1 166.1,433.3 172.0,434.5 177.8,435.4 182.5,436.2 186.0,437.7 188.9,439.4 190.7,441.2 191.3,442.7 190.7,444.1 189.5,445.9 188.0,447.6 187.5,450.0 186.9,452.9 186.0,455.8 184.8,458.1 184.2,457.6 185.1,454.6 185.7,451.7 186.0,448.8 184.8,447.0 182.5,445.3 179.6,443.5 177.2,441.8 174.9,439.4 173.1,437.1 170.2,435.4 166.1,434.2 160.3,433.5" fill="#ff7f0e" stroke="#ff7f0e" stroke-width="0.50" stroke-linejoin="round"/>
<polygon points="162.5,456.9 170.6,456.6 183.9,457.4 199.3,457.6 211.5,457.4 212.0,458.2 201.3,460.4 194.1,462.0 189.0,462.5 183.9,460.9 175.7,458.9 167.6,457.9 162.5,457.6" fill="#2ca02c" stroke="#2ca02c" stroke-width="0.50" stroke-linejoin="round"/>
<polyline points="216.6,458.6 220.2,459.1" fill="none" stroke="#2ca02c" stroke-width="1.00" stroke-linecap="round" stroke-linejoin="round"/>
<polygon points="101.3,470.6 110.3,470.5 116.3,470.3 119.3,469.6 125.3,469.2 129.3,470.0 132.2,468.4 135.1,467.9 138.6,467.6 142.1,468.4 146.8,470.2 151.5,472.5 155.6,474.9 159.1,477.2 161.1,480.1 162.0,483.0 163.2,486.0 165.5,488.3 166.4,490.3 164.3,490.0 160.8,487.7 158.5,486.0 156.2,483.0 153.8,481.3 151.5,480.1 148.0,479.5 146.8,479.0 144.5,477.8 141.6,476.0 141.0,474.6 136.9,473.6 132.8,473.7 129.3,474.0 127.3,473.6 121.3,473.2 116.3,472.6 110.3,471.9 101.3,471.7" fill="#8a4e43" stroke="#8a4e43" stroke-width="0.50" stroke-linejoin="round"/>
<polygon points="135.3,471.8 138.3,470.6 142.3,471.2 146.3,473.1 148.8,475.1 144.8,474.5 140.3,473.2 136.8,472.9" fill="#f3f3f3" fill-opacity="0.85"/>
<polyline points="129.2,484.4 133.8,487.9" fill="none" stroke="#7f7f7f" stroke-width="1.20" stroke-linecap="round" stroke-linejoin="round"/>
<polyline points="135.6,489.6 137.3,490.5 141.9,493.8 143.9,496.6 142.6,499.7 139.9,502.4 134.7,503.7 126.8,504.3" fill="none" stroke="#7f7f7f" stroke-width="1.30" stroke-linecap="round" stroke-linejoin="round"/>
<polyline points="141.9,494.1 146.5,496.5" fill="none" stroke="#7f7f7f" stroke-width="1.00" stroke-linecap="round" stroke-linejoin="round"/>
<polygon points="97.1,517.3 98.8,512.5 102.3,509.0 105.8,506.4 109.3,504.6 117.2,502.9 125.9,503.3 133.0,503.8 133.0,504.8 126.8,507.3 119.8,509.0 112.8,509.0 106.7,509.9 102.3,511.6 98.8,515.1" fill="#7f7f7f" stroke="#7f7f7f" stroke-width="0.50" stroke-linejoin="round"/>
<polyline points="107.1,507.6 102.8,509.6 99.0,513.5 97.5,516.5" fill="none" stroke="#7f7f7f" stroke-width="1.40" stroke-linecap="round" stroke-linejoin="round"/>
<polyline points="91.4,523.9 93.4,522.2" fill="none" stroke="#7f7f7f" stroke-width="1.40" stroke-linecap="round" stroke-linejoin="round"/>
<polyline points="87.6,529.0 88.9,527.7" fill="none" stroke="#7f7f7f" stroke-width="1.30" stroke-linecap="round" stroke-linejoin="round"/>
<polyline points="83.4,534.2 86.4,530.7" fill="none" stroke="#7f7f7f" stroke-width="1.30" stroke-linecap="round" stroke-linejoin="round"/>
<polyline points="79.3,539.8 81.6,536.3" fill="none" stroke="#7f7f7f" stroke-width="1.30" stroke-linecap="round" stroke-linejoin="round"/>
<polygon points="116.5,509.6 118.1,510.0 118.2,510.4 115.8,518.0 113.9,524.1 111.6,529.5 108.9,534.8 105.9,539.4 102.1,546.2 99.0,550.0 96.0,553.1 94.4,555.4 93.5,555.0 93.7,551.6 96.7,549.3 97.9,544.7 101.3,538.6 103.6,534.8 107.4,529.5 109.7,524.9 112.7,519.6 116.2,511.2" fill="#9467bd" stroke="#9467bd" stroke-width="0.50" stroke-linejoin="round"/>
<polygon points="172.0,496.5 172.6,495.9 179.0,499.4 186.0,503.0 193.0,505.3 201.2,507.6 209.4,509.4 216.4,510.0 218.7,511.7 218.7,514.0 215.2,517.0 209.4,517.5 202.3,516.4 195.3,514.0 189.5,511.1 183.7,507.0 177.8,503.0 173.1,498.3" fill="#62cfd6" stroke="#62cfd6" stroke-width="0.50" stroke-linejoin="round"/>
<ellipse cx="191.8" cy="507.8" rx="1.6" ry="0.8" fill="#f0f0f0" fill-opacity="0.85" transform="rotate(25 191.8 507.8)"/>
<ellipse cx="187.3" cy="504.9" rx="0.9" ry="0.6" fill="#f0f0f0" fill-opacity="0.85" transform="rotate(25 187.3 504.9)"/>
<ellipse cx="205.3" cy="512.1" rx="0.8" ry="0.5" fill="#f0f0f0" fill-opacity="0.85" transform="rotate(25 205.3 512.1)"/>
<ellipse cx="180.3" cy="502.1" rx="0.8" ry="0.5" fill="#f0f0f0" fill-opacity="0.85" transform="rotate(25 180.3 502.1)"/>
<ellipse cx="183.8" cy="504.1" rx="0.7" ry="0.4" fill="#f0f0f0" fill-opacity="0.85" transform="rotate(25 183.8 504.1)"/>
<ellipse cx="197.3" cy="510.1" rx="0.9" ry="0.5" fill="#f0f0f0" fill-opacity="0.85" transform="rotate(25 197.3 510.1)"/>
<ellipse cx="211.3" cy="514.1" rx="0.7" ry="0.5" fill="#f0f0f0" fill-opacity="0.85" transform="rotate(25 211.3 514.1)"/>
<ellipse cx="175.8" cy="499.4" rx="0.6" ry="0.4" fill="#f0f0f0" fill-opacity="0.85" transform="rotate(25 175.8 499.4)"/>
<polygon points="171.4,531.0 175.5,533.3 180.2,533.9 184.8,534.5 188.9,533.9 189.5,532.7 190.5,533.1 191.8,536.8 190.7,538.6 187.2,538.0 184.8,540.3 181.3,540.9 177.8,539.2 174.3,536.2 172.0,532.7" fill="#1f77b4" stroke="#1f77b4" stroke-width="0.50" stroke-linejoin="round"/>
<polyline points="163.2,524.9 166.1,526.9" fill="none" stroke="#1f77b4" stroke-width="1.30" stroke-linecap="round" stroke-linejoin="round"/>
<polyline points="167.3,525.1 170.3,527.1 174.3,529.2" fill="none" stroke="#1f77b4" stroke-width="1.30" stroke-linecap="round" stroke-linejoin="round"/>
<polyline points="170.2,529.8 173.1,532.7" fill="none" stroke="#1f77b4" stroke-width="1.30" stroke-linecap="round" stroke-linejoin="round"/>
<polygon points="119.7,558.0 124.1,559.6 129.9,561.8 137.2,562.6 146.0,562.7 153.3,563.6 159.1,564.2 162.0,565.1 156.9,565.8 153.3,565.1 146.0,564.0 137.2,564.0 129.9,562.9 124.1,560.7 119.7,558.9" fill="#b9c02a" stroke="#b9c02a" stroke-width="0.50" stroke-linejoin="round"/>
<polygon points="156.9,565.8 159.1,564.2 162.0,565.1 163.1,566.2 162.0,568.4 159.1,570.6 154.7,572.8 149.6,575.0 144.5,577.5 140.1,580.1 139.4,580.8 139.8,579.7 144.5,576.1 148.9,572.8 154.0,570.6 156.5,568.4 157.3,566.2" fill="#b9c02a" stroke="#b9c02a" stroke-width="0.50" stroke-linejoin="round"/>
<polyline points="219.3,518.7 223.4,518.2 227.5,519.3" fill="none" stroke="#b9c02a" stroke-width="1.20" stroke-linecap="round" stroke-linejoin="round"/>
<circle cx="113.6" cy="451.0" r="0.70" fill="#1f77b4"/>
<circle cx="147.9" cy="483.0" r="0.70" fill="#1f77b4"/>
<circle cx="167.9" cy="493.3" r="0.70" fill="#17becf"/>
<circle cx="104.7" cy="500.4" r="0.70" fill="#b9c02a"/>
<circle cx="85.7" cy="529.5" r="0.70" fill="#b9c02a"/>
<circle cx="117.7" cy="530.4" r="0.70" fill="#1f77b4"/>
<circle cx="233.6" cy="504.7" r="0.70" fill="#7f7f7f"/>
<circle cx="243.0" cy="538.0" r="0.70" fill="#7f7f7f"/>
<circle cx="188.7" cy="567.1" r="0.70" fill="#1f77b4"/>
<circle cx="211.7" cy="567.7" r="0.70" fill="#b9c02a"/>
<polygon points="171.3,434.9 177.8,435.4 182.5,436.2 186.0,437.7 188.9,439.4 190.7,441.2 191.3,442.7 190.7,444.1 189.5,445.9 188.2,447.4 187.1,448.8 185.9,448.5 184.8,447.0 182.5,445.3 179.6,443.5 177.2,441.8 174.9,439.4 173.1,437.1" fill="url(#mix)"/>
<polygon points="188.3,460.4 195.3,459.0 203.3,458.0 212.2,457.5 212.2,458.4 203.3,460.2 195.3,461.9 191.3,462.8 188.8,462.2" fill="url(#mix)"/>
<polygon points="133.1,468.0 136.3,467.6 140.6,468.2 146.5,470.5 152.3,472.8 157.0,475.7 160.5,479.2 161.9,483.1 161.5,487.4 160.5,487.4 158.2,484.9 154.7,482.6 152.3,479.6 149.4,477.3 145.9,476.7 146.5,475.6 151.2,475.0 146.5,472.1 140.6,470.0 134.8,469.8" fill="url(#mix)"/>
<polygon points="99.3,513.6 102.3,509.6 105.8,506.8 109.3,505.1 117.2,503.4 125.9,503.7 127.8,504.2 126.3,506.9 119.8,508.6 112.8,508.6 106.7,509.5 102.8,511.2 100.3,513.6" fill="url(#mix)"/>
<polygon points="116.8,510.6 117.6,511.1 115.1,518.1 113.0,524.1 110.8,529.1 108.1,534.4 105.1,539.1 101.5,545.1 98.8,548.1 98.1,547.1 99.8,543.1 102.8,538.1 105.1,534.1 108.3,529.1 110.5,524.6 113.5,519.1" fill="url(#mix)"/>
<polygon points="191.5,508.1 195.3,508.9 201.2,508.4 209.4,509.8 215.8,510.5 218.0,511.9 218.0,513.8 215.0,516.4 209.4,516.8 202.3,515.7 196.3,513.6 192.8,511.1" fill="url(#mix)"/>
<polygon points="174.6,533.4 178.3,534.1 182.3,534.4 185.8,534.8 187.4,536.1 186.8,538.6 184.8,540.1 181.3,540.8 177.8,539.1 175.3,536.6" fill="url(#mix)"/>
<polygon points="162.0,565.5 162.5,566.2 161.1,567.7 156.9,570.5 151.1,573.2 146.3,576.1 143.3,578.1 145.3,575.6 150.3,571.9 155.8,568.4 159.5,566.2" fill="url(#mix)"/>
<polyline points="500.3,449.8 504.0,447.5 508.0,445.0 512.0,442.5 515.0,440.5 517.5,439.8 519.5,440.8 520.8,443.0 522.6,446.0" fill="none" stroke="#1f77b4" stroke-width="2.00" stroke-linecap="round" stroke-linejoin="round"/>
<polygon points="513.5,441.0 516.0,438.8 519.0,438.8 520.5,440.5 519.0,442.0 516.0,442.3" fill="#1f77b4" stroke="#1f77b4" stroke-width="0.90" stroke-linejoin="round"/>
<polygon points="530.0,451.2 536.2,452.5 540.5,451.6 544.0,450.8 547.6,452.1 550.2,455.1 551.1,459.5 550.6,463.0 549.6,463.4 548.4,461.3 547.6,458.2 544.9,456.0 541.4,455.1 537.0,454.3 531.8,453.0 530.0,452.2" fill="#2ca02c" stroke="#2ca02c" stroke-width="0.90" stroke-linejoin="round"/>
<polygon points="543.5,452.8 546.5,453.5 548.5,456.0 546.5,455.5 544.0,454.5" fill="#f2f2f2" fill-opacity="0.80"/>
<polygon points="511.6,467.2 516.9,465.7 523.0,464.3 523.5,465.0 523.0,465.7 517.8,467.4 512.5,468.5 511.2,468.0" fill="#9467bd" stroke="#9467bd" stroke-width="0.90" stroke-linejoin="round"/>
<polygon points="531.3,463.3 532.5,462.8 533.5,464.5 535.0,465.2 535.8,467.0 534.5,467.8 533.0,466.5 531.8,465.5" fill="#1f77b4" stroke="#1f77b4" stroke-width="0.90" stroke-linejoin="round"/>
<polygon points="538.2,461.1 540.8,463.2 544.9,465.5 549.6,469.0 554.3,472.5 559.5,476.0 564.2,478.9 567.7,480.1 570.9,480.4 570.9,481.6 565.4,481.3 561.3,478.9 555.4,475.4 549.6,472.5 545.5,470.2 542.6,466.7 539.7,463.2 538.2,461.7" fill="#9467bd" stroke="#9467bd" stroke-width="0.90" stroke-linejoin="round"/>
<polygon points="529.0,480.5 530.2,482.1 532.1,483.9 534.5,484.5 537.0,483.0 538.8,481.8 540.3,483.3 540.0,486.3 539.4,489.4 539.4,491.8 537.6,493.7 535.7,492.4 533.3,490.0 532.1,488.2 530.5,487.6 530.9,485.7 529.6,483.3 528.7,481.5" fill="#e377c2" stroke="#e377c2" stroke-width="0.90" stroke-linejoin="round"/>
<polygon points="540.1,499.8 543.2,497.9 545.6,498.2 546.2,500.1 544.4,501.6 540.7,502.8 539.5,503.4 539.5,502.2" fill="#45c8d3" stroke="#45c8d3" stroke-width="0.90" stroke-linejoin="round"/>
<polygon points="538.9,508.3 541.3,508.0 541.3,509.5 539.0,509.8" fill="#45c8d3" stroke="#45c8d3" stroke-width="0.90" stroke-linejoin="round"/>
<polygon points="531.6,506.5 535.9,506.2 539.5,503.4 542.6,501.9 545.6,501.3 543.8,504.6 542.6,507.7 540.1,508.3 537.1,507.7 532.8,508.3 531.6,507.7" fill="#7f7f7f" stroke="#7f7f7f" stroke-width="0.90" stroke-linejoin="round"/>
<circle cx="545.0" cy="506.2" r="0.60" fill="#7f7f7f"/>
<polyline points="525.5,508.3 530.0,510.3 535.0,512.3 540.0,514.8 543.5,516.7 546.0,518.5 548.0,520.5 549.0,523.0 548.8,526.0 548.5,528.0" fill="none" stroke="#1f77b4" stroke-width="1.70" stroke-linecap="round" stroke-linejoin="round"/>
<polygon points="545.0,519.0 547.5,519.8 549.6,522.0 549.5,524.5 547.5,524.5 545.8,522.0" fill="#1f77b4" stroke="#1f77b4" stroke-width="0.90" stroke-linejoin="round"/>
<polyline points="562.2,513.6 566.4,515.9 570.3,515.1 574.8,510.5 578.6,506.7 580.9,504.4 584.0,502.5" fill="none" stroke="#d62728" stroke-width="1.60" stroke-linecap="round" stroke-linejoin="round"/>
<polyline points="566.4,515.9 567.6,518.1" fill="none" stroke="#d62728" stroke-width="1.80" stroke-linecap="round" stroke-linejoin="round"/>
<polygon points="579.4,505.2 581.7,502.9 584.0,502.1 585.5,502.9 585.1,504.8 582.5,505.9 580.2,507.5" fill="#d62728" stroke="#d62728" stroke-width="0.90" stroke-linejoin="round"/>
<polyline points="582.1,508.2 577.5,514.7" fill="none" stroke="#d62728" stroke-width="1.40" stroke-linecap="round" stroke-linejoin="round"/>
<circle cx="572.2" cy="490.3" r="0.80" fill="#d62728"/>
<circle cx="564.1" cy="533.2" r="0.80" fill="#d62728"/>
<polygon points="475.5,465.8 476.9,466.6 478.4,469.5 480.2,472.8 482.4,475.3 481.7,476.1 479.5,475.0 477.7,474.6 477.3,473.1 476.9,471.7 475.5,471.3 476.2,469.5 475.5,467.3" fill="#b9c02a" stroke="#b9c02a" stroke-width="0.90" stroke-linejoin="round"/>
<polygon points="490.1,492.1 491.9,489.9 494.1,487.7 495.5,485.9 497.4,484.5 499.6,483.7 499.6,485.2 499.9,487.0 499.6,489.9 497.0,490.3 494.1,490.7 491.9,492.1 490.4,492.8" fill="#b9c02a" stroke="#b9c02a" stroke-width="0.90" stroke-linejoin="round"/>
<polygon points="461.1,422.8 462.5,422.3 464.1,422.8 463.8,425.1 461.8,425.0" fill="#b9c02a" stroke="#b9c02a" stroke-width="0.90" stroke-linejoin="round"/>
<circle cx="464.0" cy="428.0" r="0.90" fill="#b9c02a"/>
<polyline points="508.3,479.3 510.0,482.5 511.5,485.5 512.8,488.0 513.8,490.3" fill="none" stroke="#2ca02c" stroke-width="1.90" stroke-linecap="round" stroke-linejoin="round"/>
<polygon points="496.2,512.3 497.3,511.4 501.0,511.0 504.6,511.6 506.8,512.7 508.6,514.5 507.9,515.6 505.3,515.6 502.4,514.9 500.2,513.8 498.0,513.0" fill="#8c564b" stroke="#8c564b" stroke-width="0.90" stroke-linejoin="round"/>
<polygon points="499.1,518.5 501.7,518.5 506.8,519.6 511.9,520.3 515.5,521.1 518.1,522.2 517.0,523.6 514.1,524.0 510.4,523.2 504.6,522.2 501.0,521.4 499.1,520.0" fill="#e377c2" stroke="#e377c2" stroke-width="0.90" stroke-linejoin="round"/>
<polygon points="490.1,542.3 491.4,540.5 494.0,540.1 496.6,539.2 498.8,537.4 501.0,537.4 501.0,539.2 498.8,540.9 495.8,543.1 493.1,544.9 491.4,546.2 490.3,544.9" fill="#45c8d3" stroke="#45c8d3" stroke-width="0.90" stroke-linejoin="round"/>
<polygon points="508.0,536.1 509.8,537.4 513.3,538.8 517.7,539.6 521.2,540.1 523.4,538.8 525.5,540.1 528.6,539.6 529.5,541.4 528.6,544.5 527.3,546.6 524.7,546.6 522.9,544.9 520.3,543.1 516.8,542.3 514.2,540.9 510.7,539.2 508.0,537.4" fill="#ff7f0e" stroke="#ff7f0e" stroke-width="0.90" stroke-linejoin="round"/>
<circle cx="530.6" cy="538.8" r="0.90" fill="#ff7f0e"/>
<circle cx="522.5" cy="541.4" r="0.90" fill="#e377c2"/>
<circle cx="499.9" cy="495.0" r="0.80" fill="#1f77b4"/>
<circle cx="515.6" cy="496.9" r="0.80" fill="#e377c2"/>
<circle cx="539.4" cy="476.6" r="0.80" fill="#2ca02c"/>
<circle cx="542.1" cy="472.9" r="0.70" fill="#9467bd"/>
<circle cx="532.7" cy="469.6" r="0.70" fill="#1f77b4"/>
<circle cx="529.6" cy="466.5" r="0.80" fill="#9467bd"/>
<circle cx="559.5" cy="463.5" r="0.70" fill="#9467bd"/>
<circle cx="560.4" cy="466.1" r="0.70" fill="#9467bd"/>
<circle cx="542.0" cy="473.1" r="0.60" fill="#9467bd"/>
<circle cx="539.7" cy="476.9" r="0.60" fill="#2ca02c"/>
<circle cx="515.6" cy="496.7" r="0.60" fill="#e377c2"/>
<circle cx="514.8" cy="531.3" r="0.70" fill="#8c564b"/>
<circle cx="461.5" cy="529.3" r="0.70" fill="#8c564b"/>
<circle cx="480.9" cy="581.2" r="0.90" fill="#17becf"/>
<circle cx="572.0" cy="576.0" r="0.90" fill="#17becf"/>
<polyline points="439.9,486.4 443.9,486.4" fill="none" stroke="#7f7f7f" stroke-width="1.00" stroke-linecap="round" stroke-linejoin="round"/>
<polyline points="570.4,572.5 571.6,575.0" fill="none" stroke="#17becf" stroke-width="0.80" stroke-linecap="round" stroke-linejoin="round"/>
</g>
<g id="legend_1">
   <g id="patch_18">
    <path d="M 3.826087 176.859647 
L 61.354212 176.859647 
Q 63.354212 176.859647 63.354212 174.859647 
L 63.354212 42.956522 
Q 63.354212 40.956522 61.354212 40.956522 
L 3.826087 40.956522 
Q 1.826087 40.956522 1.826087 42.956522 
L 1.826087 174.859647 
Q 1.826087 176.859647 3.826087 176.859647 
z
" style="fill: #ffffff; opacity: 0.95; stroke: #cccccc; stroke-linejoin: miter"/>
   </g>
   <g id="text_88">
    <text style="font-size: 11.200px; font-family: 'Liberation Sans', sans-serif; text-anchor: start" x="10.583899" y="52.554959" transform="rotate(-0 10.583899 52.554959)" dx="0.000" dy="0.432" textLength="44.010" lengthAdjust="spacingAndGlyphs" stroke="#000" stroke-width="0.18">Domains</text>
   </g>
   <g id="patch_19">
    <path d="M 5.826087 67.333084 
L 25.826087 67.333084 
L 25.826087 60.333084 
L 5.826087 60.333084 
z
" style="fill: #1f77b4; opacity: 0.22; stroke: #1f77b4; stroke-linejoin: miter"/>
   </g>
   <g id="text_89">
    <text style="font-size: 11.200px; font-family: 'Liberation Sans', sans-serif; text-anchor: start" x="33.826087" y="67.333084" transform="rotate(-0 33.826087 67.333084)" dx="0.000" dy="0.432" textLength="14.082" lengthAdjust="spacingAndGlyphs" stroke="#000" stroke-width="0.18">asl</text>
   </g>
   <g id="patch_20">
    <path d="M 5.826087 82.111209 
L 25.826087 82.111209 
L 25.826087 75.111209 
L 5.826087 75.111209 
z
" style="fill: #ff7f0e; opacity: 0.22; stroke: #ff7f0e; stroke-linejoin: miter"/>
   </g>
   <g id="text_90">
    <text style="font-size: 11.200px; font-family: 'Liberation Sans', sans-serif; text-anchor: start" x="33.826087" y="82.111209" transform="rotate(-0 33.826087 82.111209)" dx="0.000" dy="0.432" textLength="17.306" lengthAdjust="spacingAndGlyphs" stroke="#000" stroke-width="0.18">dwi</text>
   </g>
   <g id="patch_21">
    <path d="M 5.826087 96.889334 
L 25.826087 96.889334 
L 25.826087 89.889334 
L 5.826087 89.889334 
z
" style="fill: #2ca02c; opacity: 0.22; stroke: #2ca02c; stroke-linejoin: miter"/>
   </g>
   <g id="text_91">
    <text style="font-size: 11.200px; font-family: 'Liberation Sans', sans-serif; text-anchor: start" x="33.826087" y="96.889334" transform="rotate(-0 33.826087 96.889334)" dx="-0.000" dy="0.432" textLength="19.367" lengthAdjust="spacingAndGlyphs" stroke="#000" stroke-width="0.18">flair</text>
   </g>
   <g id="patch_22">
    <path d="M 5.826087 111.667459 
L 25.826087 111.667459 
L 25.826087 104.667459 
L 5.826087 104.667459 
z
" style="fill: #9467bd; opacity: 0.22; stroke: #9467bd; stroke-linejoin: miter"/>
   </g>
   <g id="text_92">
    <text style="font-size: 11.200px; font-family: 'Liberation Sans', sans-serif; text-anchor: start" x="33.826087" y="111.667459" transform="rotate(-0 33.826087 111.667459)" dx="0.000" dy="0.432" textLength="25.536" lengthAdjust="spacingAndGlyphs" stroke="#000" stroke-width="0.18">hardi</text>
   </g>
   <g id="patch_23">
    <path d="M 5.826087 126.445584 
L 25.826087 126.445584 
L 25.826087 119.445584 
L 5.826087 119.445584 
z
" style="fill: #8c564b; opacity: 0.22; stroke: #8c564b; stroke-linejoin: miter"/>
   </g>
   <g id="text_93">
    <text style="font-size: 11.200px; font-family: 'Liberation Sans', sans-serif; text-anchor: start" x="33.826087" y="126.445584" transform="rotate(-0 33.826087 126.445584)" dx="0.000" dy="0.432" textLength="16.143" lengthAdjust="spacingAndGlyphs" stroke="#000" stroke-width="0.18">swi</text>
   </g>
   <g id="patch_24">
    <path d="M 5.826087 141.223709 
L 25.826087 141.223709 
L 25.826087 134.223709 
L 5.826087 134.223709 
z
" style="fill: #7f7f7f; opacity: 0.22; stroke: #7f7f7f; stroke-linejoin: miter"/>
   </g>
   <g id="text_94">
    <text style="font-size: 11.200px; font-family: 'Liberation Sans', sans-serif; text-anchor: start" x="33.826087" y="141.223709" transform="rotate(-0 33.826087 141.223709)" dx="0.000" dy="0.432" textLength="10.287" lengthAdjust="spacingAndGlyphs" stroke="#000" stroke-width="0.18">t1</text>
   </g>
   <g id="patch_25">
    <path d="M 5.826087 156.001834 
L 25.826087 156.001834 
L 25.826087 149.001834 
L 5.826087 149.001834 
z
" style="fill: #bcbd22; opacity: 0.22; stroke: #bcbd22; stroke-linejoin: miter"/>
   </g>
   <g id="text_95">
    <text style="font-size: 11.200px; font-family: 'Liberation Sans', sans-serif; text-anchor: start" x="33.826087" y="156.001834" transform="rotate(-0 33.826087 156.001834)" dx="0.000" dy="0.432" textLength="21.952" lengthAdjust="spacingAndGlyphs" stroke="#000" stroke-width="0.18">t1ce</text>
   </g>
   <g id="patch_26">
    <path d="M 5.826087 170.779959 
L 25.826087 170.779959 
L 25.826087 163.779959 
L 5.826087 163.779959 
z
" style="fill: #17becf; opacity: 0.22; stroke: #17becf; stroke-linejoin: miter"/>
   </g>
   <g id="text_96">
    <text style="font-size: 11.200px; font-family: 'Liberation Sans', sans-serif; text-anchor: start" x="33.826087" y="170.779959" transform="rotate(-0 33.826087 170.779959)" dx="0.000" dy="0.432" textLength="10.287" lengthAdjust="spacingAndGlyphs" stroke="#000" stroke-width="0.18">t2</text>
   </g>
  </g>
  <g id="legend_2">
   <g id="patch_27">
    <path d="M 478.347826 73.021467 
L 532.896264 73.021467 
Q 534.896264 73.021467 534.896264 71.021467 
L 534.896264 42.565217 
Q 534.896264 40.565217 532.896264 40.565217 
L 478.347826 40.565217 
Q 476.347826 40.565217 476.347826 42.565217 
L 476.347826 71.021467 
Q 476.347826 73.021467 478.347826 73.021467 
z
" style="fill: #ffffff; opacity: 0.95; stroke: #cccccc; stroke-linejoin: miter"/>
   </g>
   <g id="patch_28">
    <path d="M 480.347826 52.163655 
L 500.347826 52.163655 
L 500.347826 45.163655 
L 480.347826 45.163655 
z
" style="fill: #0000ff; opacity: 0.22; stroke: #0000ff; stroke-linejoin: miter"/>
   </g>
   <g id="text_97">
    <text style="font-size: 11.200px; font-family: 'Liberation Sans', sans-serif; text-anchor: start" x="508.347826" y="52.163655" transform="rotate(-0 508.347826 52.163655)" dx="0.000" dy="0.432" textLength="21.568" lengthAdjust="spacingAndGlyphs" stroke="#000" stroke-width="0.18">Real</text>
   </g>
   <g id="patch_29">
    <path d="M 480.347826 66.94178 
L 500.347826 66.94178 
L 500.347826 59.94178 
L 480.347826 59.94178 
z
" style="fill: #d0103a; opacity: 0.22; stroke: #d0103a; stroke-linejoin: miter"/>
   </g>
   <g id="text_98">
    <text style="font-size: 11.200px; font-family: 'Liberation Sans', sans-serif; text-anchor: start" x="508.347826" y="66.94178" transform="rotate(-0 508.347826 66.94178)" dx="0.000" dy="0.432" textLength="22.532" lengthAdjust="spacingAndGlyphs" stroke="#000" stroke-width="0.18">Fake</text>
   </g>
  </g>
  <g id="legend_3">
   <g id="patch_30">
    <path d="M 23.391304 603.250951 
L 108.924117 603.250951 
Q 110.924117 603.250951 110.924117 601.250951 
L 110.924117 469.347826 
Q 110.924117 467.347826 108.924117 467.347826 
L 23.391304 467.347826 
Q 21.391304 467.347826 21.391304 469.347826 
L 21.391304 601.250951 
Q 21.391304 603.250951 23.391304 603.250951 
z
" style="fill: #ffffff; opacity: 0.95; stroke: #cccccc; stroke-linejoin: miter"/>
   </g>
   <g id="text_99">
    <text style="font-size: 11.200px; font-family: 'Liberation Sans', sans-serif; text-anchor: start" x="25.391304" y="478.946264" transform="rotate(-0 25.391304 478.946264)" dx="0.000" dy="0.432" textLength="81.576" lengthAdjust="spacingAndGlyphs" stroke="#000" stroke-width="0.18">Source Domains</text>
   </g>
   <g id="patch_31">
    <path d="M 39.393648 493.724389 
L 59.393648 493.724389 
L 59.393648 486.724389 
L 39.393648 486.724389 
z
" style="fill: #1f77b4; opacity: 0.22; stroke: #1f77b4; stroke-linejoin: miter"/>
   </g>
   <g id="text_100">
    <text style="font-size: 11.200px; font-family: 'Liberation Sans', sans-serif; text-anchor: start" x="67.393648" y="493.724389" transform="rotate(-0 67.393648 493.724389)" dx="0.000" dy="0.432" textLength="14.082" lengthAdjust="spacingAndGlyphs" stroke="#000" stroke-width="0.18">asl</text>
   </g>
   <g id="patch_32">
    <path d="M 39.393648 508.502514 
L 59.393648 508.502514 
L 59.393648 501.502514 
L 39.393648 501.502514 
z
" style="fill: #ff7f0e; opacity: 0.22; stroke: #ff7f0e; stroke-linejoin: miter"/>
   </g>
   <g id="text_101">
    <text style="font-size: 11.200px; font-family: 'Liberation Sans', sans-serif; text-anchor: start" x="67.393648" y="508.502514" transform="rotate(-0 67.393648 508.502514)" dx="0.000" dy="0.432" textLength="17.306" lengthAdjust="spacingAndGlyphs" stroke="#000" stroke-width="0.18">dwi</text>
   </g>
   <g id="patch_33">
    <path d="M 39.393648 523.280639 
L 59.393648 523.280639 
L 59.393648 516.280639 
L 39.393648 516.280639 
z
" style="fill: #2ca02c; opacity: 0.22; stroke: #2ca02c; stroke-linejoin: miter"/>
   </g>
   <g id="text_102">
    <text style="font-size: 11.200px; font-family: 'Liberation Sans', sans-serif; text-anchor: start" x="67.393648" y="523.280639" transform="rotate(-0 67.393648 523.280639)" dx="-0.000" dy="0.432" textLength="19.367" lengthAdjust="spacingAndGlyphs" stroke="#000" stroke-width="0.18">flair</text>
   </g>
   <g id="patch_34">
    <path d="M 39.393648 538.058764 
L 59.393648 538.058764 
L 59.393648 531.058764 
L 39.393648 531.058764 
z
" style="fill: #9467bd; opacity: 0.22; stroke: #9467bd; stroke-linejoin: miter"/>
   </g>
   <g id="text_103">
    <text style="font-size: 11.200px; font-family: 'Liberation Sans', sans-serif; text-anchor: start" x="67.393648" y="538.058764" transform="rotate(-0 67.393648 538.058764)" dx="0.000" dy="0.432" textLength="25.536" lengthAdjust="spacingAndGlyphs" stroke="#000" stroke-width="0.18">hardi</text>
   </g>
   <g id="patch_35">
    <path d="M 39.393648 552.836889 
L 59.393648 552.836889 
L 59.393648 545.836889 
L 39.393648 545.836889 
z
" style="fill: #8c564b; opacity: 0.22; stroke: #8c564b; stroke-linejoin: miter"/>
   </g>
   <g id="text_104">
    <text style="font-size: 11.200px; font-family: 'Liberation Sans', sans-serif; text-anchor: start" x="67.393648" y="552.836889" transform="rotate(-0 67.393648 552.836889)" dx="0.000" dy="0.432" textLength="16.143" lengthAdjust="spacingAndGlyphs" stroke="#000" stroke-width="0.18">swi</text>
   </g>
   <g id="patch_36">
    <path d="M 39.393648 567.615014 
L 59.393648 567.615014 
L 59.393648 560.615014 
L 39.393648 560.615014 
z
" style="fill: #7f7f7f; opacity: 0.22; stroke: #7f7f7f; stroke-linejoin: miter"/>
   </g>
   <g id="text_105">
    <text style="font-size: 11.200px; font-family: 'Liberation Sans', sans-serif; text-anchor: start" x="67.393648" y="567.615014" transform="rotate(-0 67.393648 567.615014)" dx="0.000" dy="0.432" textLength="10.287" lengthAdjust="spacingAndGlyphs" stroke="#000" stroke-width="0.18">t1</text>
   </g>
   <g id="patch_37">
    <path d="M 39.393648 582.393139 
L 59.393648 582.393139 
L 59.393648 575.393139 
L 39.393648 575.393139 
z
" style="fill: #bcbd22; opacity: 0.22; stroke: #bcbd22; stroke-linejoin: miter"/>
   </g>
   <g id="text_106">
    <text style="font-size: 11.200px; font-family: 'Liberation Sans', sans-serif; text-anchor: start" x="67.393648" y="582.393139" transform="rotate(-0 67.393648 582.393139)" dx="0.000" dy="0.432" textLength="21.952" lengthAdjust="spacingAndGlyphs" stroke="#000" stroke-width="0.18">t1ce</text>
   </g>
   <g id="patch_38">
    <path d="M 39.393648 597.171264 
L 59.393648 597.171264 
L 59.393648 590.171264 
L 39.393648 590.171264 
z
" style="fill: #17becf; opacity: 0.22; stroke: #17becf; stroke-linejoin: miter"/>
   </g>
   <g id="text_107">
    <text style="font-size: 11.200px; font-family: 'Liberation Sans', sans-serif; text-anchor: start" x="67.393648" y="597.171264" transform="rotate(-0 67.393648 597.171264)" dx="0.000" dy="0.432" textLength="10.287" lengthAdjust="spacingAndGlyphs" stroke="#000" stroke-width="0.18">t2</text>
   </g>
  </g>
  <g id="legend_4">
   <g id="patch_39">
    <path d="M 475.478261 724.092255 
L 567.381386 724.092255 
Q 569.381386 724.092255 569.381386 722.092255 
L 569.381386 469.73913 
Q 569.381386 467.73913 567.381386 467.73913 
L 475.478261 467.73913 
Q 473.478261 467.73913 473.478261 469.73913 
L 473.478261 722.092255 
Q 473.478261 724.092255 475.478261 724.092255 
z
" style="fill: #ffffff; opacity: 0.95; stroke: #cccccc; stroke-linejoin: miter"/>
   </g>
   <g id="text_108">
    <text style="font-size: 11.200px; font-family: 'Liberation Sans', sans-serif; text-anchor: start" x="499.423573" y="479.337568" transform="rotate(-0 499.423573 479.337568)" dx="0.000" dy="0.432" textLength="44.010" lengthAdjust="spacingAndGlyphs" stroke="#000" stroke-width="0.18">Domains</text>
   </g>
   <g id="patch_40">
    <path d="M 477.478261 494.115693 
L 497.478261 494.115693 
L 497.478261 487.115693 
L 477.478261 487.115693 
z
" style="fill: #1f77b4; opacity: 0.22; stroke: #1f77b4; stroke-linejoin: miter"/>
   </g>
   <g id="text_109">
    <text style="font-size: 11.200px; font-family: 'Liberation Sans', sans-serif; text-anchor: start" x="505.478261" y="494.115693" transform="rotate(-0 505.478261 494.115693)" dx="0.000" dy="0.432" textLength="14.082" lengthAdjust="spacingAndGlyphs" stroke="#000" stroke-width="0.18">asl</text>
   </g>
   <g id="patch_41">
    <path d="M 477.478261 508.893818 
L 497.478261 508.893818 
L 497.478261 501.893818 
L 477.478261 501.893818 
z
" style="fill: #1f77b4; opacity: 0.22; stroke: #1f77b4; stroke-linejoin: miter"/>
   </g>
   <g id="text_110">
    <text style="font-size: 11.200px; font-family: 'Liberation Sans', sans-serif; text-anchor: start" x="505.478261" y="508.893818" transform="rotate(-0 505.478261 508.893818)" dx="0.000" dy="0.432" textLength="17.306" lengthAdjust="spacingAndGlyphs" stroke="#000" stroke-width="0.18">dwi</text>
   </g>
   <g id="patch_42">
    <path d="M 477.478261 523.671943 
L 497.478261 523.671943 
L 497.478261 516.671943 
L 477.478261 516.671943 
z
" style="fill: #ff7f0e; opacity: 0.22; stroke: #ff7f0e; stroke-linejoin: miter"/>
   </g>
   <g id="text_111">
    <text style="font-size: 11.200px; font-family: 'Liberation Sans', sans-serif; text-anchor: start" x="505.478261" y="523.671943" transform="rotate(-0 505.478261 523.671943)" dx="-0.000" dy="0.432" textLength="19.367" lengthAdjust="spacingAndGlyphs" stroke="#000" stroke-width="0.18">flair</text>
   </g>
   <g id="patch_43">
    <path d="M 477.478261 538.450068 
L 497.478261 538.450068 
L 497.478261 531.450068 
L 477.478261 531.450068 
z
" style="fill: #2ca02c; opacity: 0.22; stroke: #2ca02c; stroke-linejoin: miter"/>
   </g>
   <g id="text_112">
    <text style="font-size: 11.200px; font-family: 'Liberation Sans', sans-serif; text-anchor: start" x="505.478261" y="538.450068" transform="rotate(-0 505.478261 538.450068)" dx="0.000" dy="0.432" textLength="25.536" lengthAdjust="spacingAndGlyphs" stroke="#000" stroke-width="0.18">hardi</text>
   </g>
   <g id="patch_44">
    <path d="M 477.478261 553.228193 
L 497.478261 553.228193 
L 497.478261 546.228193 
L 477.478261 546.228193 
z
" style="fill: #2ca02c; opacity: 0.22; stroke: #2ca02c; stroke-linejoin: miter"/>
   </g>
   <g id="text_113">
    <text style="font-size: 11.200px; font-family: 'Liberation Sans', sans-serif; text-anchor: start" x="505.478261" y="553.228193" transform="rotate(-0 505.478261 553.228193)" dx="0.000" dy="0.432" textLength="16.143" lengthAdjust="spacingAndGlyphs" stroke="#000" stroke-width="0.18">swi</text>
   </g>
   <g id="patch_45">
    <path d="M 477.478261 568.006318 
L 497.478261 568.006318 
L 497.478261 561.006318 
L 477.478261 561.006318 
z
" style="fill: #d62728; opacity: 0.22; stroke: #d62728; stroke-linejoin: miter"/>
   </g>
   <g id="text_114">
    <text style="font-size: 11.200px; font-family: 'Liberation Sans', sans-serif; text-anchor: start" x="505.478261" y="568.006318" transform="rotate(-0 505.478261 568.006318)" dx="0.000" dy="0.432" textLength="10.287" lengthAdjust="spacingAndGlyphs" stroke="#000" stroke-width="0.18">t1</text>
   </g>
   <g id="patch_46">
    <path d="M 477.478261 582.784443 
L 497.478261 582.784443 
L 497.478261 575.784443 
L 477.478261 575.784443 
z
" style="fill: #9467bd; opacity: 0.22; stroke: #9467bd; stroke-linejoin: miter"/>
   </g>
   <g id="text_115">
    <text style="font-size: 11.200px; font-family: 'Liberation Sans', sans-serif; text-anchor: start" x="505.478261" y="582.784443" transform="rotate(-0 505.478261 582.784443)" dx="0.000" dy="0.432" textLength="21.952" lengthAdjust="spacingAndGlyphs" stroke="#000" stroke-width="0.18">t1ce</text>
   </g>
   <g id="patch_47">
    <path d="M 477.478261 597.562568 
L 497.478261 597.562568 
L 497.478261 590.562568 
L 477.478261 590.562568 
z
" style="fill: #9467bd; opacity: 0.22; stroke: #9467bd; stroke-linejoin: miter"/>
   </g>
   <g id="text_116">
    <text style="font-size: 11.200px; font-family: 'Liberation Sans', sans-serif; text-anchor: start" x="505.478261" y="597.562568" transform="rotate(-0 505.478261 597.562568)" dx="0.000" dy="0.432" textLength="10.287" lengthAdjust="spacingAndGlyphs" stroke="#000" stroke-width="0.18">t2</text>
   </g>
   <g id="patch_48">
    <path d="M 477.478261 612.340693 
L 497.478261 612.340693 
L 497.478261 605.340693 
L 477.478261 605.340693 
z
" style="fill: #8c564b; opacity: 0.22; stroke: #8c564b; stroke-linejoin: miter"/>
   </g>
   <g id="text_117">
    <text style="font-size: 11.200px; font-family: 'Liberation Sans', sans-serif; text-anchor: start" x="505.478261" y="612.340693" transform="rotate(-0 505.478261 612.340693)" dx="0.000" dy="0.432" textLength="48.526" lengthAdjust="spacingAndGlyphs" stroke="#000" stroke-width="0.18">asl_lesion</text>
   </g>
   <g id="patch_49">
    <path d="M 477.478261 627.396943 
L 497.478261 627.396943 
L 497.478261 620.396943 
L 477.478261 620.396943 
z
" style="fill: #e377c2; opacity: 0.22; stroke: #e377c2; stroke-linejoin: miter"/>
   </g>
   <g id="text_118">
    <text style="font-size: 11.200px; font-family: 'Liberation Sans', sans-serif; text-anchor: start" x="505.478261" y="627.396943" transform="rotate(-0 505.478261 627.396943)" dx="0.000" dy="0.432" textLength="51.696" lengthAdjust="spacingAndGlyphs" stroke="#000" stroke-width="0.18">dwi_lesion</text>
   </g>
   <g id="patch_50">
    <path d="M 477.478261 642.453193 
L 497.478261 642.453193 
L 497.478261 635.453193 
L 477.478261 635.453193 
z
" style="fill: #e377c2; opacity: 0.22; stroke: #e377c2; stroke-linejoin: miter"/>
   </g>
   <g id="text_119">
    <text style="font-size: 11.200px; font-family: 'Liberation Sans', sans-serif; text-anchor: start" x="505.478261" y="642.453193" transform="rotate(-0 505.478261 642.453193)" dx="0.000" dy="0.432" textLength="53.705" lengthAdjust="spacingAndGlyphs" stroke="#000" stroke-width="0.18">flair_lesion</text>
   </g>
   <g id="patch_51">
    <path d="M 477.478261 657.509443 
L 497.478261 657.509443 
L 497.478261 650.509443 
L 477.478261 650.509443 
z
" style="fill: #7f7f7f; opacity: 0.22; stroke: #7f7f7f; stroke-linejoin: miter"/>
   </g>
   <g id="text_120">
    <text style="font-size: 11.200px; font-family: 'Liberation Sans', sans-serif; text-anchor: start" x="505.478261" y="657.509443" transform="rotate(-0 505.478261 657.509443)" dx="0.000" dy="0.432" textLength="59.876" lengthAdjust="spacingAndGlyphs" stroke="#000" stroke-width="0.18">hardi_lesion</text>
   </g>
   <g id="patch_52">
    <path d="M 477.478261 672.565693 
L 497.478261 672.565693 
L 497.478261 665.565693 
L 477.478261 665.565693 
z
" style="fill: #bcbd22; opacity: 0.22; stroke: #bcbd22; stroke-linejoin: miter"/>
   </g>
   <g id="text_121">
    <text style="font-size: 11.200px; font-family: 'Liberation Sans', sans-serif; text-anchor: start" x="505.478261" y="672.565693" transform="rotate(-0 505.478261 672.565693)" dx="0.000" dy="0.432" textLength="50.533" lengthAdjust="spacingAndGlyphs" stroke="#000" stroke-width="0.18">swi_lesion</text>
   </g>
   <g id="patch_53">
    <path d="M 477.478261 687.621943 
L 497.478261 687.621943 
L 497.478261 680.621943 
L 477.478261 680.621943 
z
" style="fill: #bcbd22; opacity: 0.22; stroke: #bcbd22; stroke-linejoin: miter"/>
   </g>
   <g id="text_122">
    <text style="font-size: 11.200px; font-family: 'Liberation Sans', sans-serif; text-anchor: start" x="505.478261" y="687.621943" transform="rotate(-0 505.478261 687.621943)" dx="0.000" dy="0.432" textLength="44.628" lengthAdjust="spacingAndGlyphs" stroke="#000" stroke-width="0.18">t1_lesion</text>
   </g>
   <g id="patch_54">
    <path d="M 477.478261 702.678193 
L 497.478261 702.678193 
L 497.478261 695.678193 
L 477.478261 695.678193 
z
" style="fill: #17becf; opacity: 0.22; stroke: #17becf; stroke-linejoin: miter"/>
   </g>
   <g id="text_123">
    <text style="font-size: 11.200px; font-family: 'Liberation Sans', sans-serif; text-anchor: start" x="505.478261" y="702.678193" transform="rotate(-0 505.478261 702.678193)" dx="0.000" dy="0.432" textLength="56.291" lengthAdjust="spacingAndGlyphs" stroke="#000" stroke-width="0.18">t1ce_lesion</text>
   </g>
   <g id="patch_55">
    <path d="M 477.478261 717.734443 
L 497.478261 717.734443 
L 497.478261 710.734443 
L 477.478261 710.734443 
z
" style="fill: #17becf; opacity: 0.22; stroke: #17becf; stroke-linejoin: miter"/>
   </g>
   <g id="text_124">
    <text style="font-size: 11.200px; font-family: 'Liberation Sans', sans-serif; text-anchor: start" x="505.478261" y="717.734443" transform="rotate(-0 505.478261 717.734443)" dx="0.000" dy="0.432" textLength="44.628" lengthAdjust="spacingAndGlyphs" stroke="#000" stroke-width="0.18">t2_lesion</text>
   </g>
  </g>
 </g>
<g id="labels" transform="scale(1.304348)" font-family="Liberation Sans, sans-serif" font-size="19" fill="#1a1a1a" stroke="#fff" stroke-width="0.25"><text x="13.0" y="14.2">a<tspan dx="0.0">)</tspan></text><text x="352.6" y="17.2">b<tspan dx="0.9">)</tspan></text><text x="13.0" y="344.0">c<tspan dx="0.0">)</tspan></text><text x="356.2" y="349.6">d<tspan dx="1.7">)</tspan></text></g></svg>
</body></html>
